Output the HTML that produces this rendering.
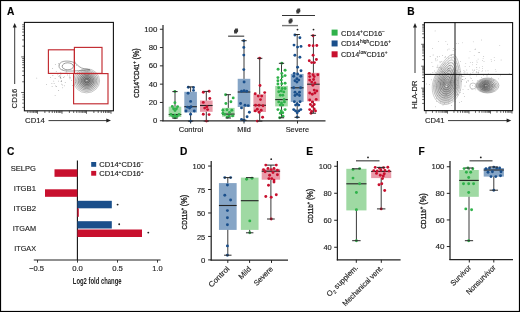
<!DOCTYPE html>
<html><head><meta charset="utf-8"><style>
html,body{margin:0;padding:0;background:#fff;}
svg{display:block;will-change:transform;}
text{font-family:"Liberation Sans", sans-serif;}
</style></head><body>
<svg width="520" height="312" viewBox="0 0 520 312" font-family='"Liberation Sans", sans-serif'>
<rect width="520" height="312" fill="#fff"/>
<rect x="0.5" y="0.5" width="519" height="311" fill="none" stroke="#000" stroke-width="1.2"/>
<text x="7" y="14.6" font-size="10.2" text-anchor="start" font-weight="bold" fill="#000" stroke="#000" stroke-width="0.15">A</text>
<text x="407.3" y="14.6" font-size="10.2" text-anchor="start" font-weight="bold" fill="#000" stroke="#000" stroke-width="0.15">B</text>
<text x="7" y="154.6" font-size="10.2" text-anchor="start" font-weight="bold" fill="#000" stroke="#000" stroke-width="0.15">C</text>
<text x="180" y="154.6" font-size="10.2" text-anchor="start" font-weight="bold" fill="#000" stroke="#000" stroke-width="0.15">D</text>
<text x="306.2" y="154.6" font-size="10.2" text-anchor="start" font-weight="bold" fill="#000" stroke="#000" stroke-width="0.15">E</text>
<text x="418.6" y="154.6" font-size="10.2" text-anchor="start" font-weight="bold" fill="#000" stroke="#000" stroke-width="0.15">F</text>
<rect x="24.4" y="22.4" width="89" height="88.4" fill="none" stroke="#111" stroke-width="1.1"/>
<line x1="21.20" y1="56.90" x2="24.40" y2="56.90" stroke="#222" stroke-width="0.7"/>
<line x1="22.20" y1="46.18" x2="24.40" y2="46.18" stroke="#222" stroke-width="0.7"/>
<line x1="22.20" y1="39.91" x2="24.40" y2="39.91" stroke="#222" stroke-width="0.7"/>
<line x1="22.20" y1="35.47" x2="24.40" y2="35.47" stroke="#222" stroke-width="0.7"/>
<line x1="22.20" y1="32.02" x2="24.40" y2="32.02" stroke="#222" stroke-width="0.7"/>
<line x1="22.20" y1="29.20" x2="24.40" y2="29.20" stroke="#222" stroke-width="0.7"/>
<line x1="22.20" y1="26.81" x2="24.40" y2="26.81" stroke="#222" stroke-width="0.7"/>
<line x1="22.20" y1="24.75" x2="24.40" y2="24.75" stroke="#222" stroke-width="0.7"/>
<line x1="21.20" y1="92.50" x2="24.40" y2="92.50" stroke="#222" stroke-width="0.7"/>
<line x1="22.20" y1="81.78" x2="24.40" y2="81.78" stroke="#222" stroke-width="0.7"/>
<line x1="22.20" y1="75.51" x2="24.40" y2="75.51" stroke="#222" stroke-width="0.7"/>
<line x1="22.20" y1="71.07" x2="24.40" y2="71.07" stroke="#222" stroke-width="0.7"/>
<line x1="22.20" y1="67.62" x2="24.40" y2="67.62" stroke="#222" stroke-width="0.7"/>
<line x1="22.20" y1="64.80" x2="24.40" y2="64.80" stroke="#222" stroke-width="0.7"/>
<line x1="22.20" y1="62.41" x2="24.40" y2="62.41" stroke="#222" stroke-width="0.7"/>
<line x1="22.20" y1="60.35" x2="24.40" y2="60.35" stroke="#222" stroke-width="0.7"/>
<line x1="22.20" y1="58.53" x2="24.40" y2="58.53" stroke="#222" stroke-width="0.7"/>
<line x1="22.20" y1="94.80" x2="24.40" y2="94.80" stroke="#333" stroke-width="0.6"/>
<line x1="22.20" y1="97.10" x2="24.40" y2="97.10" stroke="#333" stroke-width="0.6"/>
<line x1="22.20" y1="99.70" x2="24.40" y2="99.70" stroke="#333" stroke-width="0.6"/>
<line x1="22.20" y1="103.20" x2="24.40" y2="103.20" stroke="#333" stroke-width="0.6"/>
<line x1="22.20" y1="107.40" x2="24.40" y2="107.40" stroke="#333" stroke-width="0.6"/>
<line x1="27.75" y1="110.80" x2="27.75" y2="113.00" stroke="#222" stroke-width="0.7"/>
<line x1="30.12" y1="110.80" x2="30.12" y2="113.00" stroke="#222" stroke-width="0.7"/>
<line x1="32.06" y1="110.80" x2="32.06" y2="113.00" stroke="#222" stroke-width="0.7"/>
<line x1="33.70" y1="110.80" x2="33.70" y2="113.00" stroke="#222" stroke-width="0.7"/>
<line x1="35.13" y1="110.80" x2="35.13" y2="113.00" stroke="#222" stroke-width="0.7"/>
<line x1="36.38" y1="110.80" x2="36.38" y2="113.00" stroke="#222" stroke-width="0.7"/>
<line x1="37.50" y1="110.80" x2="37.50" y2="113.80" stroke="#222" stroke-width="0.7"/>
<line x1="44.88" y1="110.80" x2="44.88" y2="113.00" stroke="#222" stroke-width="0.7"/>
<line x1="49.19" y1="110.80" x2="49.19" y2="113.00" stroke="#222" stroke-width="0.7"/>
<line x1="52.25" y1="110.80" x2="52.25" y2="113.00" stroke="#222" stroke-width="0.7"/>
<line x1="54.62" y1="110.80" x2="54.62" y2="113.00" stroke="#222" stroke-width="0.7"/>
<line x1="56.56" y1="110.80" x2="56.56" y2="113.00" stroke="#222" stroke-width="0.7"/>
<line x1="58.20" y1="110.80" x2="58.20" y2="113.00" stroke="#222" stroke-width="0.7"/>
<line x1="59.63" y1="110.80" x2="59.63" y2="113.00" stroke="#222" stroke-width="0.7"/>
<line x1="60.88" y1="110.80" x2="60.88" y2="113.00" stroke="#222" stroke-width="0.7"/>
<line x1="62.00" y1="110.80" x2="62.00" y2="113.80" stroke="#222" stroke-width="0.7"/>
<line x1="69.38" y1="110.80" x2="69.38" y2="113.00" stroke="#222" stroke-width="0.7"/>
<line x1="73.69" y1="110.80" x2="73.69" y2="113.00" stroke="#222" stroke-width="0.7"/>
<line x1="76.75" y1="110.80" x2="76.75" y2="113.00" stroke="#222" stroke-width="0.7"/>
<line x1="79.12" y1="110.80" x2="79.12" y2="113.00" stroke="#222" stroke-width="0.7"/>
<line x1="81.06" y1="110.80" x2="81.06" y2="113.00" stroke="#222" stroke-width="0.7"/>
<line x1="82.70" y1="110.80" x2="82.70" y2="113.00" stroke="#222" stroke-width="0.7"/>
<line x1="84.13" y1="110.80" x2="84.13" y2="113.00" stroke="#222" stroke-width="0.7"/>
<line x1="85.38" y1="110.80" x2="85.38" y2="113.00" stroke="#222" stroke-width="0.7"/>
<line x1="86.50" y1="110.80" x2="86.50" y2="113.80" stroke="#222" stroke-width="0.7"/>
<line x1="93.88" y1="110.80" x2="93.88" y2="113.00" stroke="#222" stroke-width="0.7"/>
<line x1="98.19" y1="110.80" x2="98.19" y2="113.00" stroke="#222" stroke-width="0.7"/>
<line x1="101.25" y1="110.80" x2="101.25" y2="113.00" stroke="#222" stroke-width="0.7"/>
<line x1="103.62" y1="110.80" x2="103.62" y2="113.00" stroke="#222" stroke-width="0.7"/>
<line x1="105.56" y1="110.80" x2="105.56" y2="113.00" stroke="#222" stroke-width="0.7"/>
<line x1="107.20" y1="110.80" x2="107.20" y2="113.00" stroke="#222" stroke-width="0.7"/>
<line x1="108.63" y1="110.80" x2="108.63" y2="113.00" stroke="#222" stroke-width="0.7"/>
<line x1="109.88" y1="110.80" x2="109.88" y2="113.00" stroke="#222" stroke-width="0.7"/>
<line x1="111.00" y1="110.80" x2="111.00" y2="113.80" stroke="#222" stroke-width="0.7"/>
<line x1="14.70" y1="84.00" x2="14.70" y2="26.00" stroke="#222" stroke-width="0.9"/>
<path d="M12.7,27.6 L14.7,22.9 L16.7,27.6 Z" fill="#222"/>
<line x1="48.50" y1="120.60" x2="107.50" y2="120.60" stroke="#222" stroke-width="0.9"/>
<path d="M106.3,118.6 L111.0,120.6 L106.3,122.6 Z" fill="#222"/>
<text x="25.1" y="122.9" font-size="7.4" text-anchor="start" font-weight="normal" fill="#222" textLength="19.8" lengthAdjust="spacingAndGlyphs"  stroke="#222" stroke-width="0.14">CD14</text>
<text transform="translate(17.4,108.4) rotate(-90)" font-size="7.4" text-anchor="start" fill="#222" font-weight="normal" textLength="19.7" lengthAdjust="spacingAndGlyphs" stroke="#222" stroke-width="0.14">CD16</text>
<circle cx="62.7" cy="87.8" r="0.4" fill="#777"/>
<circle cx="55.5" cy="85.9" r="0.4" fill="#777"/>
<circle cx="60.2" cy="77.2" r="0.4" fill="#777"/>
<circle cx="75.3" cy="80.1" r="0.4" fill="#777"/>
<circle cx="61.7" cy="84.1" r="0.4" fill="#777"/>
<circle cx="69.9" cy="78.8" r="0.4" fill="#777"/>
<circle cx="66.1" cy="72.2" r="0.4" fill="#777"/>
<circle cx="59.4" cy="75.9" r="0.4" fill="#777"/>
<circle cx="52.7" cy="68.4" r="0.4" fill="#777"/>
<circle cx="50.6" cy="77.3" r="0.4" fill="#777"/>
<circle cx="60.8" cy="76.8" r="0.4" fill="#777"/>
<circle cx="62.5" cy="69.7" r="0.4" fill="#777"/>
<circle cx="61.4" cy="80.7" r="0.4" fill="#777"/>
<circle cx="67.3" cy="73.1" r="0.4" fill="#777"/>
<circle cx="59.2" cy="64.9" r="0.4" fill="#777"/>
<circle cx="58.5" cy="63.6" r="0.4" fill="#777"/>
<circle cx="52.1" cy="86.7" r="0.4" fill="#777"/>
<circle cx="46.6" cy="84.6" r="0.4" fill="#777"/>
<circle cx="64.3" cy="76.8" r="0.4" fill="#777"/>
<circle cx="65.2" cy="82.7" r="0.4" fill="#777"/>
<circle cx="69.3" cy="77.4" r="0.4" fill="#777"/>
<circle cx="57.9" cy="74.8" r="0.4" fill="#777"/>
<circle cx="55.1" cy="78.7" r="0.4" fill="#777"/>
<circle cx="56.5" cy="86.5" r="0.4" fill="#777"/>
<circle cx="48.9" cy="71.3" r="0.4" fill="#777"/>
<circle cx="55.3" cy="64.3" r="0.4" fill="#777"/>
<circle cx="75.3" cy="62.1" r="0.4" fill="#777"/>
<circle cx="60.0" cy="75.3" r="0.4" fill="#777"/>
<circle cx="73.6" cy="65.1" r="0.4" fill="#777"/>
<circle cx="69.5" cy="73.9" r="0.4" fill="#777"/>
<circle cx="60.9" cy="74.3" r="0.4" fill="#777"/>
<circle cx="66.5" cy="71.0" r="0.4" fill="#777"/>
<circle cx="61.4" cy="81.5" r="0.4" fill="#777"/>
<circle cx="74.9" cy="62.2" r="0.4" fill="#777"/>
<circle cx="72.7" cy="85.6" r="0.4" fill="#777"/>
<circle cx="58.6" cy="81.1" r="0.4" fill="#777"/>
<circle cx="58.7" cy="90.5" r="0.4" fill="#777"/>
<circle cx="63.5" cy="77.5" r="0.4" fill="#777"/>
<circle cx="60.4" cy="77.6" r="0.4" fill="#777"/>
<circle cx="60.8" cy="72.8" r="0.4" fill="#777"/>
<circle cx="76.4" cy="65.6" r="0.4" fill="#777"/>
<circle cx="36.8" cy="78.1" r="0.4" fill="#777"/>
<circle cx="61.0" cy="81.6" r="0.4" fill="#777"/>
<circle cx="60.6" cy="78.0" r="0.4" fill="#777"/>
<circle cx="64.3" cy="85.8" r="0.4" fill="#777"/>
<circle cx="58.9" cy="76.4" r="0.4" fill="#777"/>
<circle cx="75.6" cy="82.7" r="0.4" fill="#777"/>
<circle cx="55.1" cy="95.3" r="0.4" fill="#777"/>
<circle cx="67.4" cy="74.9" r="0.4" fill="#777"/>
<circle cx="53.8" cy="81.1" r="0.4" fill="#777"/>
<circle cx="56.2" cy="71.6" r="0.4" fill="#777"/>
<circle cx="52.9" cy="75.5" r="0.4" fill="#777"/>
<circle cx="69.8" cy="76.0" r="0.4" fill="#777"/>
<circle cx="51.9" cy="83.7" r="0.4" fill="#777"/>
<circle cx="62.5" cy="84.9" r="0.4" fill="#777"/>
<circle cx="70.4" cy="77.8" r="0.4" fill="#777"/>
<circle cx="61.0" cy="78.7" r="0.4" fill="#777"/>
<circle cx="54.1" cy="83.7" r="0.4" fill="#777"/>
<circle cx="71.6" cy="80.2" r="0.4" fill="#777"/>
<circle cx="60.3" cy="77.2" r="0.4" fill="#777"/>
<defs><radialGradient id="gA" cx="0.5" cy="0.5" r="0.5"><stop offset="0" stop-color="#fff" stop-opacity="0.9"/><stop offset="0.12" stop-color="#555" stop-opacity="0.75"/><stop offset="0.55" stop-color="#777" stop-opacity="0.45"/><stop offset="1" stop-color="#bbb" stop-opacity="0.1"/></radialGradient><radialGradient id="gB" cx="0.5" cy="0.5" r="0.5"><stop offset="0" stop-color="#eee" stop-opacity="0.8"/><stop offset="0.15" stop-color="#555" stop-opacity="0.7"/><stop offset="0.6" stop-color="#888" stop-opacity="0.4"/><stop offset="1" stop-color="#bbb" stop-opacity="0.1"/></radialGradient></defs>
<ellipse cx="86.7" cy="80.7" rx="12.6" ry="11.8" fill="url(#gA)"/>
<ellipse cx="86.60" cy="80.80" rx="13.00" ry="12.10" fill="none" stroke="#999" stroke-width="0.55"/>
<ellipse cx="86.66" cy="80.77" rx="11.53" ry="10.72" fill="none" stroke="#888" stroke-width="0.55"/>
<ellipse cx="86.72" cy="80.75" rx="10.05" ry="9.35" fill="none" stroke="#777" stroke-width="0.55"/>
<ellipse cx="86.79" cy="80.72" rx="8.57" ry="7.97" fill="none" stroke="#666" stroke-width="0.55"/>
<ellipse cx="86.85" cy="80.70" rx="7.10" ry="6.60" fill="none" stroke="#555" stroke-width="0.55"/>
<ellipse cx="86.91" cy="80.67" rx="5.63" ry="5.22" fill="none" stroke="#555" stroke-width="0.55"/>
<ellipse cx="86.97" cy="80.65" rx="4.15" ry="3.85" fill="none" stroke="#4a4a4a" stroke-width="0.55"/>
<ellipse cx="87.04" cy="80.62" rx="2.67" ry="2.48" fill="none" stroke="#444" stroke-width="0.55"/>
<ellipse cx="87.10" cy="80.60" rx="1.20" ry="1.10" fill="none" stroke="#555" stroke-width="0.55"/>
<path d="M59,66 C59,61 66,60.5 71,61.5 C75,62.5 76.5,64 79,66.5 C82,69 86,68.8 90,69.8 C80,70.5 75,71 72,71 C64,71.5 59,70 59,66 Z" fill="none" stroke="#5a5a5a" stroke-width="0.55"/>
<ellipse cx="67.8" cy="66.3" rx="5.6" ry="3.5" fill="none" stroke="#4a4a4a" stroke-width="0.55"/>
<g fill="none" stroke="#c22a30" stroke-width="1.15">
<rect x="48.4" y="49.8" width="26" height="23.6"/>
<rect x="74.4" y="47.4" width="27.6" height="26"/>
<rect x="73.6" y="73.6" width="34.4" height="30.2"/>
</g>
<line x1="163.00" y1="25.00" x2="163.00" y2="121.30" stroke="#2a2a2a" stroke-width="1.25"/>
<line x1="162.40" y1="120.75" x2="325.50" y2="120.75" stroke="#2a2a2a" stroke-width="1.25"/>
<line x1="159.90" y1="120.75" x2="163.00" y2="120.75" stroke="#2a2a2a" stroke-width="1.0"/>
<text x="157.4" y="123.25" font-size="7.2" text-anchor="end" font-weight="normal" fill="#222" textLength="4.3" lengthAdjust="spacingAndGlyphs"  stroke="#222" stroke-width="0.14">0</text>
<line x1="159.90" y1="102.45" x2="163.00" y2="102.45" stroke="#2a2a2a" stroke-width="1.0"/>
<text x="157.4" y="104.95" font-size="7.2" text-anchor="end" font-weight="normal" fill="#222" textLength="8.6" lengthAdjust="spacingAndGlyphs"  stroke="#222" stroke-width="0.14">20</text>
<line x1="159.90" y1="84.15" x2="163.00" y2="84.15" stroke="#2a2a2a" stroke-width="1.0"/>
<text x="157.4" y="86.65" font-size="7.2" text-anchor="end" font-weight="normal" fill="#222" textLength="8.6" lengthAdjust="spacingAndGlyphs"  stroke="#222" stroke-width="0.14">40</text>
<line x1="159.90" y1="65.85" x2="163.00" y2="65.85" stroke="#2a2a2a" stroke-width="1.0"/>
<text x="157.4" y="68.35" font-size="7.2" text-anchor="end" font-weight="normal" fill="#222" textLength="8.6" lengthAdjust="spacingAndGlyphs"  stroke="#222" stroke-width="0.14">60</text>
<line x1="159.90" y1="47.55" x2="163.00" y2="47.55" stroke="#2a2a2a" stroke-width="1.0"/>
<text x="157.4" y="50.05" font-size="7.2" text-anchor="end" font-weight="normal" fill="#222" textLength="8.6" lengthAdjust="spacingAndGlyphs"  stroke="#222" stroke-width="0.14">80</text>
<line x1="159.90" y1="29.25" x2="163.00" y2="29.25" stroke="#2a2a2a" stroke-width="1.0"/>
<text x="157.4" y="31.75" font-size="7.2" text-anchor="end" font-weight="normal" fill="#222" textLength="13.2" lengthAdjust="spacingAndGlyphs"  stroke="#222" stroke-width="0.14">100</text>
<line x1="190.60" y1="120.75" x2="190.60" y2="123.50" stroke="#2a2a2a" stroke-width="1.0"/>
<line x1="244.00" y1="120.75" x2="244.00" y2="123.50" stroke="#2a2a2a" stroke-width="1.0"/>
<line x1="297.50" y1="120.75" x2="297.50" y2="123.50" stroke="#2a2a2a" stroke-width="1.0"/>
<text x="190.9" y="132.2" font-size="7.9" text-anchor="middle" font-weight="normal" fill="#222" textLength="24.4" lengthAdjust="spacingAndGlyphs"  stroke="#222" stroke-width="0.14">Control</text>
<text x="244.0" y="132.2" font-size="7.9" text-anchor="middle" font-weight="normal" fill="#222" textLength="13.5" lengthAdjust="spacingAndGlyphs"  stroke="#222" stroke-width="0.14">Mild</text>
<text x="297.4" y="132.2" font-size="7.9" text-anchor="middle" font-weight="normal" fill="#222" textLength="23.4" lengthAdjust="spacingAndGlyphs"  stroke="#222" stroke-width="0.14">Severe</text>
<text transform="translate(138.7,97.8) rotate(-90)" font-size="7.4" text-anchor="start" fill="#222" font-weight="normal" textLength="49.5" lengthAdjust="spacingAndGlyphs" stroke="#222" stroke-width="0.3">CD14<tspan font-size="5.0" dy="-2.9">+</tspan><tspan dy="2.9">CD41<tspan font-size="5.0" dy="-2.9">+</tspan><tspan dy="2.9"> <tspan font-size="8.6">(%)</tspan></tspan></tspan></text>
<line x1="175.00" y1="91.60" x2="175.00" y2="118.20" stroke="#3a3a3a" stroke-width="1.0"/>
<rect x="168.70" y="106.70" width="12.60" height="10.30" fill="#9fd9a3"/>
<line x1="168.70" y1="114.50" x2="181.30" y2="114.50" stroke="#222" stroke-width="1.1"/>
<circle cx="174.90" cy="91.50" r="1.45" fill="#2fb24a"/>
<circle cx="174.90" cy="102.70" r="1.45" fill="#2fb24a"/>
<circle cx="172.30" cy="106.40" r="1.45" fill="#2fb24a"/>
<circle cx="177.60" cy="106.60" r="1.45" fill="#2fb24a"/>
<circle cx="173.60" cy="108.70" r="1.45" fill="#2fb24a"/>
<circle cx="176.40" cy="108.80" r="1.45" fill="#2fb24a"/>
<circle cx="175.00" cy="110.60" r="1.45" fill="#2fb24a"/>
<circle cx="171.00" cy="114.40" r="1.45" fill="#2fb24a"/>
<circle cx="172.90" cy="116.40" r="1.45" fill="#2fb24a"/>
<circle cx="175.00" cy="117.80" r="1.45" fill="#2fb24a"/>
<circle cx="177.10" cy="116.40" r="1.45" fill="#2fb24a"/>
<circle cx="179.00" cy="114.40" r="1.45" fill="#2fb24a"/>
<circle cx="174.90" cy="115.20" r="1.45" fill="#2fb24a"/>
<line x1="172.35" y1="91.60" x2="177.65" y2="91.60" stroke="#2a2a2a" stroke-width="1.0"/>
<line x1="172.35" y1="118.20" x2="177.65" y2="118.20" stroke="#2a2a2a" stroke-width="1.0"/>
<line x1="190.60" y1="86.90" x2="190.60" y2="121.10" stroke="#3a3a3a" stroke-width="1.0"/>
<rect x="184.30" y="91.80" width="12.60" height="20.70" fill="#86a5c6"/>
<line x1="184.30" y1="106.70" x2="196.90" y2="106.70" stroke="#222" stroke-width="1.1"/>
<circle cx="188.30" cy="87.20" r="1.45" fill="#1a4f8b"/>
<circle cx="193.50" cy="87.50" r="1.45" fill="#1a4f8b"/>
<circle cx="193.50" cy="90.40" r="1.45" fill="#1a4f8b"/>
<circle cx="188.10" cy="93.30" r="1.45" fill="#1a4f8b"/>
<circle cx="190.60" cy="101.40" r="1.45" fill="#1a4f8b"/>
<circle cx="187.40" cy="107.10" r="1.45" fill="#1a4f8b"/>
<circle cx="189.60" cy="108.10" r="1.45" fill="#1a4f8b"/>
<circle cx="191.00" cy="106.70" r="1.45" fill="#1a4f8b"/>
<circle cx="194.30" cy="111.00" r="1.45" fill="#1a4f8b"/>
<circle cx="186.00" cy="111.00" r="1.45" fill="#1a4f8b"/>
<circle cx="190.60" cy="114.30" r="1.45" fill="#1a4f8b"/>
<circle cx="190.60" cy="121.10" r="1.45" fill="#1a4f8b"/>
<line x1="187.95" y1="86.90" x2="193.25" y2="86.90" stroke="#2a2a2a" stroke-width="1.0"/>
<line x1="187.95" y1="121.10" x2="193.25" y2="121.10" stroke="#2a2a2a" stroke-width="1.0"/>
<line x1="206.30" y1="91.40" x2="206.30" y2="121.10" stroke="#3a3a3a" stroke-width="1.0"/>
<rect x="200.00" y="100.50" width="12.60" height="11.30" fill="#e99aa8"/>
<line x1="200.00" y1="105.50" x2="212.60" y2="105.50" stroke="#222" stroke-width="1.1"/>
<circle cx="203.30" cy="92.30" r="1.45" fill="#c8102e"/>
<circle cx="209.10" cy="91.30" r="1.45" fill="#c8102e"/>
<circle cx="209.80" cy="98.50" r="1.45" fill="#c8102e"/>
<circle cx="203.30" cy="102.40" r="1.45" fill="#c8102e"/>
<circle cx="206.90" cy="106.70" r="1.45" fill="#c8102e"/>
<circle cx="204.70" cy="108.10" r="1.45" fill="#c8102e"/>
<circle cx="207.60" cy="109.60" r="1.45" fill="#c8102e"/>
<circle cx="203.30" cy="114.30" r="1.45" fill="#c8102e"/>
<circle cx="209.10" cy="114.60" r="1.45" fill="#c8102e"/>
<circle cx="206.50" cy="121.10" r="1.45" fill="#c8102e"/>
<line x1="203.65" y1="91.40" x2="208.95" y2="91.40" stroke="#2a2a2a" stroke-width="1.0"/>
<line x1="203.65" y1="121.10" x2="208.95" y2="121.10" stroke="#2a2a2a" stroke-width="1.0"/>
<line x1="228.30" y1="94.70" x2="228.30" y2="118.00" stroke="#3a3a3a" stroke-width="1.0"/>
<rect x="222.00" y="107.90" width="12.60" height="8.80" fill="#9fd9a3"/>
<line x1="222.00" y1="114.10" x2="234.60" y2="114.10" stroke="#222" stroke-width="1.1"/>
<circle cx="225.60" cy="94.70" r="1.45" fill="#2fb24a"/>
<circle cx="233.20" cy="97.90" r="1.45" fill="#2fb24a"/>
<circle cx="230.90" cy="101.70" r="1.45" fill="#2fb24a"/>
<circle cx="225.90" cy="103.50" r="1.45" fill="#2fb24a"/>
<circle cx="222.90" cy="110.20" r="1.45" fill="#2fb24a"/>
<circle cx="227.00" cy="109.70" r="1.45" fill="#2fb24a"/>
<circle cx="231.80" cy="110.20" r="1.45" fill="#2fb24a"/>
<circle cx="224.70" cy="114.40" r="1.45" fill="#2fb24a"/>
<circle cx="229.10" cy="116.20" r="1.45" fill="#2fb24a"/>
<circle cx="227.30" cy="117.30" r="1.45" fill="#2fb24a"/>
<circle cx="232.60" cy="115.90" r="1.45" fill="#2fb24a"/>
<circle cx="222.90" cy="113.20" r="1.45" fill="#2fb24a"/>
<circle cx="229.50" cy="112.50" r="1.45" fill="#2fb24a"/>
<line x1="225.65" y1="94.70" x2="230.95" y2="94.70" stroke="#2a2a2a" stroke-width="1.0"/>
<line x1="225.65" y1="118.00" x2="230.95" y2="118.00" stroke="#2a2a2a" stroke-width="1.0"/>
<line x1="244.00" y1="40.70" x2="244.00" y2="120.30" stroke="#3a3a3a" stroke-width="1.0"/>
<rect x="237.70" y="78.80" width="12.60" height="28.20" fill="#86a5c6"/>
<line x1="237.70" y1="92.00" x2="250.30" y2="92.00" stroke="#222" stroke-width="1.1"/>
<circle cx="243.80" cy="40.70" r="1.45" fill="#1a4f8b"/>
<circle cx="243.80" cy="47.40" r="1.45" fill="#1a4f8b"/>
<circle cx="243.80" cy="55.10" r="1.45" fill="#1a4f8b"/>
<circle cx="243.80" cy="69.60" r="1.45" fill="#1a4f8b"/>
<circle cx="244.10" cy="82.00" r="1.45" fill="#1a4f8b"/>
<circle cx="241.50" cy="91.20" r="1.45" fill="#1a4f8b"/>
<circle cx="244.10" cy="90.80" r="1.45" fill="#1a4f8b"/>
<circle cx="246.70" cy="91.20" r="1.45" fill="#1a4f8b"/>
<circle cx="240.60" cy="103.50" r="1.45" fill="#1a4f8b"/>
<circle cx="245.00" cy="105.30" r="1.45" fill="#1a4f8b"/>
<circle cx="248.20" cy="105.60" r="1.45" fill="#1a4f8b"/>
<circle cx="241.50" cy="107.90" r="1.45" fill="#1a4f8b"/>
<circle cx="249.40" cy="112.30" r="1.45" fill="#1a4f8b"/>
<circle cx="247.10" cy="116.70" r="1.45" fill="#1a4f8b"/>
<circle cx="241.50" cy="119.40" r="1.45" fill="#1a4f8b"/>
<circle cx="244.10" cy="120.30" r="1.45" fill="#1a4f8b"/>
<line x1="241.35" y1="40.70" x2="246.65" y2="40.70" stroke="#2a2a2a" stroke-width="1.0"/>
<line x1="241.35" y1="120.30" x2="246.65" y2="120.30" stroke="#2a2a2a" stroke-width="1.0"/>
<line x1="259.70" y1="58.30" x2="259.70" y2="121.10" stroke="#3a3a3a" stroke-width="1.0"/>
<rect x="253.40" y="94.20" width="12.60" height="17.80" fill="#e99aa8"/>
<line x1="253.40" y1="105.30" x2="266.00" y2="105.30" stroke="#222" stroke-width="1.1"/>
<circle cx="259.60" cy="58.30" r="1.45" fill="#c8102e"/>
<circle cx="260.00" cy="85.50" r="1.45" fill="#c8102e"/>
<circle cx="255.20" cy="93.80" r="1.45" fill="#c8102e"/>
<circle cx="264.70" cy="92.60" r="1.45" fill="#c8102e"/>
<circle cx="258.20" cy="96.10" r="1.45" fill="#c8102e"/>
<circle cx="261.70" cy="96.10" r="1.45" fill="#c8102e"/>
<circle cx="260.50" cy="99.60" r="1.45" fill="#c8102e"/>
<circle cx="255.60" cy="105.30" r="1.45" fill="#c8102e"/>
<circle cx="259.10" cy="105.30" r="1.45" fill="#c8102e"/>
<circle cx="263.00" cy="105.80" r="1.45" fill="#c8102e"/>
<circle cx="257.30" cy="109.20" r="1.45" fill="#c8102e"/>
<circle cx="261.20" cy="110.20" r="1.45" fill="#c8102e"/>
<circle cx="259.10" cy="112.30" r="1.45" fill="#c8102e"/>
<circle cx="262.60" cy="117.30" r="1.45" fill="#c8102e"/>
<circle cx="257.30" cy="121.10" r="1.45" fill="#c8102e"/>
<circle cx="255.20" cy="110.90" r="1.45" fill="#c8102e"/>
<line x1="257.05" y1="58.30" x2="262.35" y2="58.30" stroke="#2a2a2a" stroke-width="1.0"/>
<line x1="257.05" y1="121.10" x2="262.35" y2="121.10" stroke="#2a2a2a" stroke-width="1.0"/>
<line x1="281.50" y1="63.30" x2="281.50" y2="117.80" stroke="#3a3a3a" stroke-width="1.0"/>
<rect x="275.20" y="85.90" width="12.60" height="20.50" fill="#9fd9a3"/>
<line x1="275.20" y1="99.60" x2="287.80" y2="99.60" stroke="#222" stroke-width="1.1"/>
<circle cx="281.80" cy="63.30" r="1.45" fill="#2fb24a"/>
<circle cx="278.10" cy="69.30" r="1.45" fill="#2fb24a"/>
<circle cx="285.10" cy="70.30" r="1.45" fill="#2fb24a"/>
<circle cx="281.80" cy="73.40" r="1.45" fill="#2fb24a"/>
<circle cx="285.10" cy="75.60" r="1.45" fill="#2fb24a"/>
<circle cx="277.90" cy="77.60" r="1.45" fill="#2fb24a"/>
<circle cx="282.20" cy="76.80" r="1.45" fill="#2fb24a"/>
<circle cx="277.90" cy="80.80" r="1.45" fill="#2fb24a"/>
<circle cx="281.30" cy="80.10" r="1.45" fill="#2fb24a"/>
<circle cx="277.90" cy="84.00" r="1.45" fill="#2fb24a"/>
<circle cx="281.80" cy="83.70" r="1.45" fill="#2fb24a"/>
<circle cx="285.10" cy="83.30" r="1.45" fill="#2fb24a"/>
<circle cx="278.70" cy="87.80" r="1.45" fill="#2fb24a"/>
<circle cx="282.20" cy="88.50" r="1.45" fill="#2fb24a"/>
<circle cx="285.10" cy="88.50" r="1.45" fill="#2fb24a"/>
<circle cx="278.70" cy="91.70" r="1.45" fill="#2fb24a"/>
<circle cx="281.30" cy="91.00" r="1.45" fill="#2fb24a"/>
<circle cx="283.80" cy="91.90" r="1.45" fill="#2fb24a"/>
<circle cx="280.30" cy="95.30" r="1.45" fill="#2fb24a"/>
<circle cx="282.80" cy="95.30" r="1.45" fill="#2fb24a"/>
<circle cx="284.10" cy="99.40" r="1.45" fill="#2fb24a"/>
<circle cx="278.70" cy="101.90" r="1.45" fill="#2fb24a"/>
<circle cx="281.50" cy="103.00" r="1.45" fill="#2fb24a"/>
<circle cx="284.40" cy="101.90" r="1.45" fill="#2fb24a"/>
<circle cx="280.30" cy="105.10" r="1.45" fill="#2fb24a"/>
<circle cx="282.80" cy="105.10" r="1.45" fill="#2fb24a"/>
<circle cx="277.90" cy="109.60" r="1.45" fill="#2fb24a"/>
<circle cx="281.30" cy="110.90" r="1.45" fill="#2fb24a"/>
<circle cx="285.10" cy="109.60" r="1.45" fill="#2fb24a"/>
<circle cx="280.30" cy="113.20" r="1.45" fill="#2fb24a"/>
<circle cx="282.80" cy="112.80" r="1.45" fill="#2fb24a"/>
<circle cx="279.70" cy="117.70" r="1.45" fill="#2fb24a"/>
<circle cx="283.00" cy="116.20" r="1.45" fill="#2fb24a"/>
<line x1="278.85" y1="63.30" x2="284.15" y2="63.30" stroke="#2a2a2a" stroke-width="1.0"/>
<line x1="278.85" y1="117.80" x2="284.15" y2="117.80" stroke="#2a2a2a" stroke-width="1.0"/>
<line x1="297.20" y1="34.50" x2="297.20" y2="117.30" stroke="#3a3a3a" stroke-width="1.0"/>
<rect x="290.80" y="73.90" width="12.80" height="28.00" fill="#86a5c6"/>
<line x1="290.80" y1="87.80" x2="303.60" y2="87.80" stroke="#222" stroke-width="1.1"/>
<circle cx="294.90" cy="35.00" r="1.45" fill="#1a4f8b"/>
<circle cx="299.90" cy="37.70" r="1.45" fill="#1a4f8b"/>
<circle cx="294.00" cy="45.10" r="1.45" fill="#1a4f8b"/>
<circle cx="297.60" cy="47.10" r="1.45" fill="#1a4f8b"/>
<circle cx="301.00" cy="46.40" r="1.45" fill="#1a4f8b"/>
<circle cx="294.90" cy="55.20" r="1.45" fill="#1a4f8b"/>
<circle cx="299.90" cy="57.20" r="1.45" fill="#1a4f8b"/>
<circle cx="297.60" cy="67.30" r="1.45" fill="#1a4f8b"/>
<circle cx="301.00" cy="70.70" r="1.45" fill="#1a4f8b"/>
<circle cx="294.20" cy="73.40" r="1.45" fill="#1a4f8b"/>
<circle cx="297.60" cy="74.00" r="1.45" fill="#1a4f8b"/>
<circle cx="293.70" cy="76.30" r="1.45" fill="#1a4f8b"/>
<circle cx="300.80" cy="76.30" r="1.45" fill="#1a4f8b"/>
<circle cx="296.90" cy="78.80" r="1.45" fill="#1a4f8b"/>
<circle cx="295.00" cy="80.80" r="1.45" fill="#1a4f8b"/>
<circle cx="298.80" cy="80.10" r="1.45" fill="#1a4f8b"/>
<circle cx="296.90" cy="82.10" r="1.45" fill="#1a4f8b"/>
<circle cx="293.70" cy="87.80" r="1.45" fill="#1a4f8b"/>
<circle cx="300.60" cy="87.80" r="1.45" fill="#1a4f8b"/>
<circle cx="295.00" cy="92.30" r="1.45" fill="#1a4f8b"/>
<circle cx="299.50" cy="92.30" r="1.45" fill="#1a4f8b"/>
<circle cx="297.20" cy="94.20" r="1.45" fill="#1a4f8b"/>
<circle cx="295.00" cy="95.50" r="1.45" fill="#1a4f8b"/>
<circle cx="299.50" cy="95.50" r="1.45" fill="#1a4f8b"/>
<circle cx="294.40" cy="101.70" r="1.45" fill="#1a4f8b"/>
<circle cx="300.10" cy="101.70" r="1.45" fill="#1a4f8b"/>
<circle cx="297.20" cy="103.80" r="1.45" fill="#1a4f8b"/>
<circle cx="295.60" cy="105.10" r="1.45" fill="#1a4f8b"/>
<circle cx="298.80" cy="105.10" r="1.45" fill="#1a4f8b"/>
<circle cx="293.70" cy="109.60" r="1.45" fill="#1a4f8b"/>
<circle cx="300.80" cy="109.60" r="1.45" fill="#1a4f8b"/>
<circle cx="295.60" cy="110.90" r="1.45" fill="#1a4f8b"/>
<circle cx="298.80" cy="110.90" r="1.45" fill="#1a4f8b"/>
<circle cx="297.20" cy="112.80" r="1.45" fill="#1a4f8b"/>
<circle cx="297.20" cy="117.30" r="1.45" fill="#1a4f8b"/>
<line x1="294.51" y1="34.50" x2="299.89" y2="34.50" stroke="#2a2a2a" stroke-width="1.0"/>
<line x1="294.51" y1="117.30" x2="299.89" y2="117.30" stroke="#2a2a2a" stroke-width="1.0"/>
<line x1="313.40" y1="35.40" x2="313.40" y2="113.20" stroke="#3a3a3a" stroke-width="1.0"/>
<rect x="307.10" y="72.80" width="12.60" height="28.50" fill="#e99aa8"/>
<line x1="307.10" y1="84.20" x2="319.70" y2="84.20" stroke="#222" stroke-width="1.1"/>
<circle cx="313.10" cy="35.70" r="1.45" fill="#c8102e"/>
<circle cx="309.30" cy="45.50" r="1.45" fill="#c8102e"/>
<circle cx="313.10" cy="45.80" r="1.45" fill="#c8102e"/>
<circle cx="316.80" cy="45.50" r="1.45" fill="#c8102e"/>
<circle cx="313.10" cy="55.20" r="1.45" fill="#c8102e"/>
<circle cx="309.30" cy="60.80" r="1.45" fill="#c8102e"/>
<circle cx="316.40" cy="59.50" r="1.45" fill="#c8102e"/>
<circle cx="311.70" cy="62.60" r="1.45" fill="#c8102e"/>
<circle cx="314.40" cy="62.60" r="1.45" fill="#c8102e"/>
<circle cx="309.30" cy="73.40" r="1.45" fill="#c8102e"/>
<circle cx="313.10" cy="74.70" r="1.45" fill="#c8102e"/>
<circle cx="317.80" cy="74.70" r="1.45" fill="#c8102e"/>
<circle cx="309.70" cy="76.60" r="1.45" fill="#c8102e"/>
<circle cx="314.20" cy="76.60" r="1.45" fill="#c8102e"/>
<circle cx="309.70" cy="80.10" r="1.45" fill="#c8102e"/>
<circle cx="313.60" cy="79.50" r="1.45" fill="#c8102e"/>
<circle cx="311.70" cy="82.10" r="1.45" fill="#c8102e"/>
<circle cx="314.90" cy="83.00" r="1.45" fill="#c8102e"/>
<circle cx="312.90" cy="85.30" r="1.45" fill="#c8102e"/>
<circle cx="314.20" cy="90.10" r="1.45" fill="#c8102e"/>
<circle cx="316.80" cy="91.00" r="1.45" fill="#c8102e"/>
<circle cx="309.70" cy="93.00" r="1.45" fill="#c8102e"/>
<circle cx="312.30" cy="94.20" r="1.45" fill="#c8102e"/>
<circle cx="314.90" cy="93.00" r="1.45" fill="#c8102e"/>
<circle cx="309.70" cy="100.00" r="1.45" fill="#c8102e"/>
<circle cx="316.20" cy="99.40" r="1.45" fill="#c8102e"/>
<circle cx="312.30" cy="101.90" r="1.45" fill="#c8102e"/>
<circle cx="310.40" cy="104.50" r="1.45" fill="#c8102e"/>
<circle cx="314.20" cy="104.50" r="1.45" fill="#c8102e"/>
<circle cx="312.30" cy="106.40" r="1.45" fill="#c8102e"/>
<circle cx="309.70" cy="109.60" r="1.45" fill="#c8102e"/>
<circle cx="314.20" cy="109.00" r="1.45" fill="#c8102e"/>
<circle cx="311.70" cy="111.50" r="1.45" fill="#c8102e"/>
<circle cx="315.50" cy="110.90" r="1.45" fill="#c8102e"/>
<circle cx="311.00" cy="113.20" r="1.45" fill="#c8102e"/>
<line x1="310.75" y1="35.40" x2="316.05" y2="35.40" stroke="#2a2a2a" stroke-width="1.0"/>
<line x1="310.75" y1="113.20" x2="316.05" y2="113.20" stroke="#2a2a2a" stroke-width="1.0"/>
<line x1="228.10" y1="36.20" x2="244.20" y2="36.20" stroke="#555" stroke-width="1.3"/>
<text x="235.9" y="33.4" font-size="6.2" text-anchor="middle" font-weight="bold" fill="#3a3a3a" font-style="italic" stroke="#3a3a3a" stroke-width="0.9">#</text>
<line x1="282.00" y1="15.50" x2="315.00" y2="15.50" stroke="#333" stroke-width="1.2"/>
<text x="298.3" y="12.9" font-size="6.2" text-anchor="middle" font-weight="bold" fill="#3a3a3a" font-style="italic" stroke="#3a3a3a" stroke-width="0.9">#</text>
<line x1="282.00" y1="25.60" x2="298.00" y2="25.60" stroke="#777" stroke-width="1.4"/>
<text x="290.5" y="22.9" font-size="6.2" text-anchor="middle" font-weight="bold" fill="#3a3a3a" font-style="italic" stroke="#3a3a3a" stroke-width="0.9">#</text>
<circle cx="297.50" cy="29.60" r="0.9" fill="#222"/>
<circle cx="313.50" cy="29.60" r="0.9" fill="#222"/>
<rect x="331.6" y="29.60" width="6" height="6" fill="#2fb24a"/>
<text x="341.0" y="35.5" font-size="7.3" text-anchor="start" font-weight="normal" fill="#222" textLength="44" lengthAdjust="spacingAndGlyphs"  stroke="#222" stroke-width="0.14">CD14<tspan font-size="4.8" dy="-2.9">+</tspan><tspan dy="2.9">CD16<tspan font-size="4.8" dy="-2.9">−</tspan><tspan dy="2.9"></tspan></tspan></text>
<rect x="331.6" y="40.45" width="6" height="6" fill="#1a4f8b"/>
<text x="341.0" y="46.35" font-size="7.3" text-anchor="start" font-weight="normal" fill="#222" textLength="50" lengthAdjust="spacingAndGlyphs"  stroke="#222" stroke-width="0.14">CD14<tspan font-size="4.8" dy="-2.9">high</tspan><tspan dy="2.9">CD16<tspan font-size="4.8" dy="-2.9">+</tspan><tspan dy="2.9"></tspan></tspan></text>
<rect x="331.6" y="51.30" width="6" height="6" fill="#c8102e"/>
<text x="341.0" y="57.199999999999996" font-size="7.3" text-anchor="start" font-weight="normal" fill="#222" textLength="46.5" lengthAdjust="spacingAndGlyphs"  stroke="#222" stroke-width="0.14">CD14<tspan font-size="4.8" dy="-2.9">low</tspan><tspan dy="2.9">CD16<tspan font-size="4.8" dy="-2.9">+</tspan><tspan dy="2.9"></tspan></tspan></text>
<rect x="424.4" y="22.6" width="88.2" height="88" fill="none" stroke="#111" stroke-width="1.1"/>
<line x1="421.20" y1="44.30" x2="424.40" y2="44.30" stroke="#222" stroke-width="0.7"/>
<line x1="422.20" y1="37.71" x2="424.40" y2="37.71" stroke="#222" stroke-width="0.7"/>
<line x1="422.20" y1="33.85" x2="424.40" y2="33.85" stroke="#222" stroke-width="0.7"/>
<line x1="422.20" y1="31.11" x2="424.40" y2="31.11" stroke="#222" stroke-width="0.7"/>
<line x1="422.20" y1="28.99" x2="424.40" y2="28.99" stroke="#222" stroke-width="0.7"/>
<line x1="422.20" y1="27.26" x2="424.40" y2="27.26" stroke="#222" stroke-width="0.7"/>
<line x1="422.20" y1="25.79" x2="424.40" y2="25.79" stroke="#222" stroke-width="0.7"/>
<line x1="422.20" y1="24.52" x2="424.40" y2="24.52" stroke="#222" stroke-width="0.7"/>
<line x1="421.20" y1="66.20" x2="424.40" y2="66.20" stroke="#222" stroke-width="0.7"/>
<line x1="422.20" y1="59.61" x2="424.40" y2="59.61" stroke="#222" stroke-width="0.7"/>
<line x1="422.20" y1="55.75" x2="424.40" y2="55.75" stroke="#222" stroke-width="0.7"/>
<line x1="422.20" y1="53.01" x2="424.40" y2="53.01" stroke="#222" stroke-width="0.7"/>
<line x1="422.20" y1="50.89" x2="424.40" y2="50.89" stroke="#222" stroke-width="0.7"/>
<line x1="422.20" y1="49.16" x2="424.40" y2="49.16" stroke="#222" stroke-width="0.7"/>
<line x1="422.20" y1="47.69" x2="424.40" y2="47.69" stroke="#222" stroke-width="0.7"/>
<line x1="422.20" y1="46.42" x2="424.40" y2="46.42" stroke="#222" stroke-width="0.7"/>
<line x1="422.20" y1="45.30" x2="424.40" y2="45.30" stroke="#222" stroke-width="0.7"/>
<line x1="421.20" y1="88.10" x2="424.40" y2="88.10" stroke="#222" stroke-width="0.7"/>
<line x1="422.20" y1="81.51" x2="424.40" y2="81.51" stroke="#222" stroke-width="0.7"/>
<line x1="422.20" y1="77.65" x2="424.40" y2="77.65" stroke="#222" stroke-width="0.7"/>
<line x1="422.20" y1="74.91" x2="424.40" y2="74.91" stroke="#222" stroke-width="0.7"/>
<line x1="422.20" y1="72.79" x2="424.40" y2="72.79" stroke="#222" stroke-width="0.7"/>
<line x1="422.20" y1="71.06" x2="424.40" y2="71.06" stroke="#222" stroke-width="0.7"/>
<line x1="422.20" y1="69.59" x2="424.40" y2="69.59" stroke="#222" stroke-width="0.7"/>
<line x1="422.20" y1="68.32" x2="424.40" y2="68.32" stroke="#222" stroke-width="0.7"/>
<line x1="422.20" y1="67.20" x2="424.40" y2="67.20" stroke="#222" stroke-width="0.7"/>
<line x1="422.20" y1="103.41" x2="424.40" y2="103.41" stroke="#222" stroke-width="0.7"/>
<line x1="422.20" y1="99.55" x2="424.40" y2="99.55" stroke="#222" stroke-width="0.7"/>
<line x1="422.20" y1="96.81" x2="424.40" y2="96.81" stroke="#222" stroke-width="0.7"/>
<line x1="422.20" y1="94.69" x2="424.40" y2="94.69" stroke="#222" stroke-width="0.7"/>
<line x1="422.20" y1="92.96" x2="424.40" y2="92.96" stroke="#222" stroke-width="0.7"/>
<line x1="422.20" y1="91.49" x2="424.40" y2="91.49" stroke="#222" stroke-width="0.7"/>
<line x1="422.20" y1="90.22" x2="424.40" y2="90.22" stroke="#222" stroke-width="0.7"/>
<line x1="422.20" y1="89.10" x2="424.40" y2="89.10" stroke="#222" stroke-width="0.7"/>
<line x1="426.00" y1="110.60" x2="426.00" y2="113.60" stroke="#222" stroke-width="0.7"/>
<line x1="432.47" y1="110.60" x2="432.47" y2="112.80" stroke="#222" stroke-width="0.7"/>
<line x1="436.26" y1="110.60" x2="436.26" y2="112.80" stroke="#222" stroke-width="0.7"/>
<line x1="438.94" y1="110.60" x2="438.94" y2="112.80" stroke="#222" stroke-width="0.7"/>
<line x1="441.03" y1="110.60" x2="441.03" y2="112.80" stroke="#222" stroke-width="0.7"/>
<line x1="442.73" y1="110.60" x2="442.73" y2="112.80" stroke="#222" stroke-width="0.7"/>
<line x1="444.17" y1="110.60" x2="444.17" y2="112.80" stroke="#222" stroke-width="0.7"/>
<line x1="445.42" y1="110.60" x2="445.42" y2="112.80" stroke="#222" stroke-width="0.7"/>
<line x1="446.52" y1="110.60" x2="446.52" y2="112.80" stroke="#222" stroke-width="0.7"/>
<line x1="447.50" y1="110.60" x2="447.50" y2="113.60" stroke="#222" stroke-width="0.7"/>
<line x1="453.97" y1="110.60" x2="453.97" y2="112.80" stroke="#222" stroke-width="0.7"/>
<line x1="457.76" y1="110.60" x2="457.76" y2="112.80" stroke="#222" stroke-width="0.7"/>
<line x1="460.44" y1="110.60" x2="460.44" y2="112.80" stroke="#222" stroke-width="0.7"/>
<line x1="462.53" y1="110.60" x2="462.53" y2="112.80" stroke="#222" stroke-width="0.7"/>
<line x1="464.23" y1="110.60" x2="464.23" y2="112.80" stroke="#222" stroke-width="0.7"/>
<line x1="465.67" y1="110.60" x2="465.67" y2="112.80" stroke="#222" stroke-width="0.7"/>
<line x1="466.92" y1="110.60" x2="466.92" y2="112.80" stroke="#222" stroke-width="0.7"/>
<line x1="468.02" y1="110.60" x2="468.02" y2="112.80" stroke="#222" stroke-width="0.7"/>
<line x1="469.00" y1="110.60" x2="469.00" y2="113.60" stroke="#222" stroke-width="0.7"/>
<line x1="475.47" y1="110.60" x2="475.47" y2="112.80" stroke="#222" stroke-width="0.7"/>
<line x1="479.26" y1="110.60" x2="479.26" y2="112.80" stroke="#222" stroke-width="0.7"/>
<line x1="481.94" y1="110.60" x2="481.94" y2="112.80" stroke="#222" stroke-width="0.7"/>
<line x1="484.03" y1="110.60" x2="484.03" y2="112.80" stroke="#222" stroke-width="0.7"/>
<line x1="485.73" y1="110.60" x2="485.73" y2="112.80" stroke="#222" stroke-width="0.7"/>
<line x1="487.17" y1="110.60" x2="487.17" y2="112.80" stroke="#222" stroke-width="0.7"/>
<line x1="488.42" y1="110.60" x2="488.42" y2="112.80" stroke="#222" stroke-width="0.7"/>
<line x1="489.52" y1="110.60" x2="489.52" y2="112.80" stroke="#222" stroke-width="0.7"/>
<line x1="490.50" y1="110.60" x2="490.50" y2="113.60" stroke="#222" stroke-width="0.7"/>
<line x1="496.97" y1="110.60" x2="496.97" y2="112.80" stroke="#222" stroke-width="0.7"/>
<line x1="500.76" y1="110.60" x2="500.76" y2="112.80" stroke="#222" stroke-width="0.7"/>
<line x1="503.44" y1="110.60" x2="503.44" y2="112.80" stroke="#222" stroke-width="0.7"/>
<line x1="505.53" y1="110.60" x2="505.53" y2="112.80" stroke="#222" stroke-width="0.7"/>
<line x1="507.23" y1="110.60" x2="507.23" y2="112.80" stroke="#222" stroke-width="0.7"/>
<line x1="508.67" y1="110.60" x2="508.67" y2="112.80" stroke="#222" stroke-width="0.7"/>
<line x1="509.92" y1="110.60" x2="509.92" y2="112.80" stroke="#222" stroke-width="0.7"/>
<line x1="511.02" y1="110.60" x2="511.02" y2="112.80" stroke="#222" stroke-width="0.7"/>
<line x1="512.00" y1="110.60" x2="512.00" y2="113.60" stroke="#222" stroke-width="0.7"/>
<line x1="415.00" y1="73.00" x2="415.00" y2="26.00" stroke="#222" stroke-width="0.9"/>
<path d="M413.0,27.6 L415,22.9 L417.0,27.6 Z" fill="#222"/>
<line x1="448.00" y1="120.60" x2="507.80" y2="120.60" stroke="#222" stroke-width="0.9"/>
<path d="M506.6,118.6 L511.3,120.6 L506.6,122.6 Z" fill="#222"/>
<text x="425" y="122.9" font-size="7.4" text-anchor="start" font-weight="normal" fill="#222" textLength="19.5" lengthAdjust="spacingAndGlyphs"  stroke="#222" stroke-width="0.14">CD41</text>
<text transform="translate(417.2,108.7) rotate(-90)" font-size="7.4" text-anchor="start" fill="#222" font-weight="normal" textLength="28.2" lengthAdjust="spacingAndGlyphs" stroke="#222" stroke-width="0.14">HLA-DR</text>
<circle cx="436.0" cy="60.8" r="0.4" fill="#888"/>
<circle cx="456.4" cy="43.6" r="0.4" fill="#888"/>
<circle cx="447.4" cy="44.2" r="0.4" fill="#888"/>
<circle cx="461.1" cy="81.0" r="0.4" fill="#888"/>
<circle cx="463.9" cy="70.4" r="0.4" fill="#888"/>
<circle cx="453.4" cy="73.7" r="0.4" fill="#888"/>
<circle cx="440.9" cy="80.2" r="0.4" fill="#888"/>
<circle cx="435.2" cy="72.7" r="0.4" fill="#888"/>
<circle cx="456.7" cy="78.9" r="0.4" fill="#888"/>
<circle cx="449.6" cy="69.2" r="0.4" fill="#888"/>
<circle cx="450.8" cy="70.2" r="0.4" fill="#888"/>
<circle cx="444.8" cy="72.7" r="0.4" fill="#888"/>
<circle cx="471.3" cy="78.3" r="0.4" fill="#888"/>
<circle cx="450.9" cy="88.1" r="0.4" fill="#888"/>
<circle cx="471.2" cy="74.6" r="0.4" fill="#888"/>
<circle cx="432.9" cy="72.5" r="0.4" fill="#888"/>
<circle cx="438.6" cy="41.6" r="0.4" fill="#888"/>
<circle cx="456.3" cy="70.2" r="0.4" fill="#888"/>
<circle cx="444.7" cy="84.9" r="0.4" fill="#888"/>
<circle cx="451.5" cy="82.4" r="0.4" fill="#888"/>
<circle cx="444.3" cy="97.3" r="0.4" fill="#888"/>
<circle cx="465.6" cy="78.5" r="0.4" fill="#888"/>
<circle cx="444.0" cy="89.0" r="0.4" fill="#888"/>
<circle cx="454.3" cy="62.4" r="0.4" fill="#888"/>
<circle cx="443.9" cy="93.7" r="0.4" fill="#888"/>
<circle cx="447.9" cy="73.1" r="0.4" fill="#888"/>
<circle cx="451.3" cy="77.5" r="0.4" fill="#888"/>
<circle cx="449.0" cy="49.0" r="0.4" fill="#888"/>
<circle cx="468.2" cy="81.0" r="0.4" fill="#888"/>
<circle cx="439.4" cy="92.7" r="0.4" fill="#888"/>
<circle cx="452.4" cy="78.3" r="0.4" fill="#888"/>
<circle cx="455.1" cy="101.8" r="0.4" fill="#888"/>
<circle cx="472.7" cy="62.7" r="0.4" fill="#888"/>
<circle cx="443.2" cy="89.6" r="0.4" fill="#888"/>
<circle cx="430.2" cy="74.0" r="0.4" fill="#888"/>
<circle cx="463.2" cy="93.6" r="0.4" fill="#888"/>
<circle cx="455.4" cy="49.6" r="0.4" fill="#888"/>
<circle cx="474.9" cy="86.3" r="0.4" fill="#888"/>
<circle cx="457.4" cy="85.4" r="0.4" fill="#888"/>
<circle cx="430.1" cy="56.5" r="0.4" fill="#888"/>
<circle cx="435.6" cy="106.8" r="0.4" fill="#888"/>
<circle cx="439.9" cy="74.4" r="0.4" fill="#888"/>
<circle cx="446.2" cy="86.6" r="0.4" fill="#888"/>
<circle cx="454.5" cy="82.0" r="0.4" fill="#888"/>
<circle cx="435.1" cy="30.9" r="0.4" fill="#888"/>
<circle cx="450.8" cy="82.0" r="0.4" fill="#888"/>
<circle cx="462.5" cy="76.5" r="0.4" fill="#888"/>
<circle cx="442.3" cy="84.2" r="0.4" fill="#888"/>
<circle cx="431.9" cy="62.4" r="0.4" fill="#888"/>
<circle cx="437.9" cy="82.3" r="0.4" fill="#888"/>
<circle cx="472.0" cy="89.5" r="0.4" fill="#888"/>
<circle cx="461.6" cy="81.6" r="0.4" fill="#888"/>
<circle cx="452.1" cy="71.3" r="0.4" fill="#888"/>
<circle cx="445.9" cy="41.6" r="0.4" fill="#888"/>
<circle cx="435.8" cy="58.7" r="0.4" fill="#888"/>
<circle cx="458.2" cy="87.9" r="0.4" fill="#888"/>
<circle cx="461.6" cy="101.3" r="0.4" fill="#888"/>
<circle cx="445.6" cy="93.8" r="0.4" fill="#888"/>
<circle cx="470.5" cy="77.9" r="0.4" fill="#888"/>
<circle cx="461.0" cy="75.5" r="0.4" fill="#888"/>
<circle cx="431.3" cy="79.8" r="0.4" fill="#888"/>
<circle cx="440.0" cy="79.6" r="0.4" fill="#888"/>
<circle cx="443.9" cy="82.8" r="0.4" fill="#888"/>
<circle cx="464.0" cy="72.7" r="0.4" fill="#888"/>
<circle cx="439.0" cy="78.1" r="0.4" fill="#888"/>
<circle cx="456.4" cy="84.4" r="0.4" fill="#888"/>
<circle cx="453.4" cy="48.5" r="0.4" fill="#888"/>
<circle cx="436.6" cy="98.2" r="0.4" fill="#888"/>
<circle cx="451.6" cy="55.2" r="0.4" fill="#888"/>
<circle cx="439.4" cy="56.3" r="0.4" fill="#888"/>
<circle cx="437.8" cy="95.7" r="0.4" fill="#888"/>
<circle cx="446.6" cy="95.0" r="0.4" fill="#888"/>
<circle cx="451.1" cy="55.2" r="0.4" fill="#888"/>
<circle cx="440.5" cy="62.0" r="0.4" fill="#888"/>
<circle cx="462.8" cy="79.4" r="0.4" fill="#888"/>
<circle cx="448.9" cy="100.4" r="0.4" fill="#888"/>
<circle cx="429.3" cy="84.4" r="0.4" fill="#888"/>
<circle cx="437.2" cy="56.6" r="0.4" fill="#888"/>
<circle cx="439.9" cy="95.6" r="0.4" fill="#888"/>
<circle cx="447.4" cy="49.9" r="0.4" fill="#888"/>
<circle cx="436.6" cy="101.3" r="0.4" fill="#888"/>
<circle cx="460.5" cy="61.3" r="0.4" fill="#888"/>
<circle cx="476.2" cy="72.4" r="0.4" fill="#888"/>
<circle cx="435.6" cy="75.9" r="0.4" fill="#888"/>
<circle cx="459.5" cy="102.7" r="0.4" fill="#888"/>
<circle cx="460.6" cy="71.5" r="0.4" fill="#888"/>
<circle cx="442.7" cy="55.7" r="0.4" fill="#888"/>
<circle cx="448.2" cy="68.9" r="0.4" fill="#888"/>
<circle cx="451.8" cy="58.6" r="0.4" fill="#888"/>
<circle cx="443.2" cy="64.5" r="0.4" fill="#888"/>
<circle cx="435.5" cy="59.8" r="0.4" fill="#888"/>
<circle cx="437.5" cy="59.9" r="0.4" fill="#888"/>
<circle cx="455.4" cy="79.5" r="0.4" fill="#888"/>
<circle cx="434.1" cy="85.9" r="0.4" fill="#888"/>
<circle cx="452.2" cy="100.4" r="0.4" fill="#888"/>
<circle cx="446.8" cy="74.8" r="0.4" fill="#888"/>
<circle cx="441.2" cy="79.9" r="0.4" fill="#888"/>
<circle cx="454.6" cy="80.7" r="0.4" fill="#888"/>
<circle cx="446.1" cy="86.7" r="0.4" fill="#888"/>
<circle cx="450.0" cy="81.8" r="0.4" fill="#888"/>
<circle cx="438.5" cy="81.2" r="0.4" fill="#888"/>
<circle cx="437.8" cy="65.1" r="0.4" fill="#888"/>
<circle cx="460.2" cy="78.1" r="0.4" fill="#888"/>
<circle cx="447.0" cy="93.2" r="0.4" fill="#888"/>
<circle cx="464.6" cy="96.7" r="0.4" fill="#888"/>
<circle cx="446.9" cy="80.9" r="0.4" fill="#888"/>
<circle cx="445.3" cy="73.6" r="0.4" fill="#888"/>
<circle cx="439.4" cy="74.2" r="0.4" fill="#888"/>
<circle cx="453.8" cy="63.8" r="0.4" fill="#888"/>
<circle cx="455.1" cy="58.2" r="0.4" fill="#888"/>
<circle cx="444.8" cy="84.1" r="0.4" fill="#888"/>
<circle cx="437.3" cy="67.0" r="0.4" fill="#888"/>
<circle cx="476.8" cy="67.5" r="0.4" fill="#888"/>
<circle cx="441.1" cy="69.2" r="0.4" fill="#888"/>
<circle cx="449.4" cy="77.6" r="0.4" fill="#888"/>
<circle cx="460.1" cy="90.2" r="0.4" fill="#888"/>
<circle cx="444.5" cy="72.5" r="0.4" fill="#888"/>
<circle cx="433.1" cy="55.0" r="0.4" fill="#888"/>
<circle cx="440.7" cy="89.2" r="0.4" fill="#888"/>
<circle cx="450.4" cy="90.3" r="0.4" fill="#888"/>
<circle cx="459.6" cy="75.5" r="0.4" fill="#888"/>
<circle cx="472.6" cy="70.0" r="0.4" fill="#888"/>
<circle cx="442.0" cy="71.4" r="0.4" fill="#888"/>
<circle cx="461.8" cy="75.9" r="0.4" fill="#888"/>
<circle cx="440.7" cy="84.7" r="0.4" fill="#888"/>
<circle cx="461.7" cy="76.3" r="0.4" fill="#888"/>
<circle cx="446.2" cy="94.6" r="0.4" fill="#888"/>
<circle cx="460.1" cy="92.5" r="0.4" fill="#888"/>
<circle cx="440.4" cy="82.3" r="0.4" fill="#888"/>
<circle cx="453.1" cy="50.5" r="0.4" fill="#888"/>
<circle cx="462.5" cy="79.5" r="0.4" fill="#888"/>
<circle cx="450.6" cy="67.0" r="0.4" fill="#888"/>
<circle cx="448.3" cy="86.6" r="0.4" fill="#888"/>
<circle cx="458.1" cy="77.1" r="0.4" fill="#888"/>
<circle cx="439.3" cy="67.3" r="0.4" fill="#888"/>
<circle cx="439.8" cy="61.9" r="0.4" fill="#888"/>
<circle cx="448.8" cy="70.5" r="0.4" fill="#888"/>
<circle cx="449.6" cy="65.3" r="0.4" fill="#888"/>
<circle cx="439.3" cy="75.2" r="0.4" fill="#888"/>
<circle cx="445.1" cy="95.6" r="0.4" fill="#888"/>
<circle cx="438.8" cy="81.2" r="0.4" fill="#888"/>
<circle cx="448.5" cy="58.0" r="0.4" fill="#888"/>
<circle cx="457.2" cy="80.6" r="0.4" fill="#888"/>
<circle cx="459.5" cy="65.8" r="0.4" fill="#888"/>
<circle cx="468.0" cy="80.4" r="0.4" fill="#888"/>
<circle cx="436.1" cy="86.6" r="0.4" fill="#888"/>
<circle cx="445.0" cy="57.5" r="0.4" fill="#888"/>
<circle cx="440.7" cy="87.9" r="0.4" fill="#888"/>
<circle cx="453.3" cy="70.0" r="0.4" fill="#888"/>
<circle cx="443.0" cy="105.0" r="0.4" fill="#888"/>
<circle cx="468.1" cy="89.5" r="0.4" fill="#888"/>
<circle cx="445.0" cy="63.0" r="0.4" fill="#888"/>
<circle cx="444.7" cy="103.5" r="0.4" fill="#888"/>
<circle cx="454.2" cy="73.6" r="0.4" fill="#888"/>
<circle cx="435.2" cy="80.6" r="0.4" fill="#888"/>
<circle cx="439.1" cy="78.2" r="0.4" fill="#888"/>
<circle cx="457.3" cy="94.4" r="0.4" fill="#888"/>
<circle cx="450.6" cy="72.8" r="0.4" fill="#888"/>
<circle cx="451.5" cy="105.5" r="0.4" fill="#888"/>
<circle cx="453.2" cy="56.6" r="0.4" fill="#888"/>
<circle cx="466.4" cy="81.8" r="0.4" fill="#888"/>
<circle cx="488.0" cy="70.8" r="0.4" fill="#888"/>
<circle cx="447.9" cy="73.5" r="0.4" fill="#888"/>
<circle cx="453.2" cy="69.2" r="0.4" fill="#888"/>
<circle cx="432.5" cy="48.7" r="0.4" fill="#888"/>
<circle cx="447.6" cy="70.2" r="0.4" fill="#888"/>
<circle cx="457.9" cy="94.6" r="0.4" fill="#888"/>
<circle cx="443.4" cy="82.6" r="0.4" fill="#888"/>
<circle cx="446.6" cy="74.9" r="0.4" fill="#888"/>
<circle cx="457.4" cy="87.2" r="0.4" fill="#888"/>
<circle cx="452.4" cy="80.3" r="0.4" fill="#888"/>
<circle cx="432.9" cy="66.7" r="0.4" fill="#888"/>
<circle cx="453.3" cy="72.4" r="0.4" fill="#888"/>
<circle cx="440.3" cy="83.4" r="0.4" fill="#888"/>
<circle cx="438.7" cy="67.8" r="0.4" fill="#888"/>
<circle cx="458.9" cy="72.5" r="0.4" fill="#888"/>
<circle cx="465.0" cy="86.0" r="0.4" fill="#888"/>
<circle cx="458.0" cy="95.2" r="0.4" fill="#888"/>
<circle cx="434.6" cy="70.9" r="0.4" fill="#888"/>
<circle cx="447.8" cy="96.9" r="0.4" fill="#888"/>
<circle cx="448.5" cy="103.0" r="0.4" fill="#888"/>
<circle cx="443.1" cy="77.1" r="0.4" fill="#888"/>
<circle cx="450.0" cy="92.4" r="0.4" fill="#888"/>
<circle cx="448.4" cy="68.6" r="0.4" fill="#888"/>
<circle cx="445.3" cy="56.7" r="0.4" fill="#888"/>
<circle cx="463.0" cy="89.4" r="0.4" fill="#888"/>
<circle cx="453.8" cy="82.2" r="0.4" fill="#888"/>
<circle cx="442.3" cy="71.8" r="0.4" fill="#888"/>
<circle cx="458.0" cy="66.0" r="0.4" fill="#888"/>
<circle cx="440.3" cy="102.0" r="0.4" fill="#888"/>
<circle cx="466.4" cy="82.4" r="0.4" fill="#888"/>
<circle cx="454.9" cy="80.8" r="0.4" fill="#888"/>
<circle cx="464.9" cy="71.3" r="0.4" fill="#888"/>
<circle cx="449.9" cy="85.3" r="0.4" fill="#888"/>
<circle cx="465.0" cy="74.2" r="0.4" fill="#888"/>
<circle cx="451.6" cy="70.6" r="0.4" fill="#888"/>
<circle cx="441.7" cy="68.1" r="0.4" fill="#888"/>
<circle cx="449.9" cy="91.4" r="0.4" fill="#888"/>
<circle cx="441.3" cy="68.9" r="0.4" fill="#888"/>
<circle cx="444.5" cy="83.3" r="0.4" fill="#888"/>
<circle cx="456.8" cy="59.1" r="0.4" fill="#888"/>
<circle cx="452.9" cy="62.9" r="0.4" fill="#888"/>
<circle cx="456.9" cy="63.5" r="0.4" fill="#888"/>
<circle cx="437.0" cy="67.2" r="0.4" fill="#888"/>
<circle cx="448.3" cy="63.0" r="0.4" fill="#888"/>
<circle cx="451.3" cy="80.2" r="0.4" fill="#888"/>
<circle cx="449.9" cy="82.1" r="0.4" fill="#888"/>
<circle cx="458.7" cy="67.0" r="0.4" fill="#888"/>
<circle cx="449.0" cy="77.6" r="0.4" fill="#888"/>
<circle cx="426.3" cy="83.9" r="0.4" fill="#888"/>
<circle cx="440.5" cy="67.2" r="0.4" fill="#888"/>
<circle cx="444.1" cy="79.5" r="0.4" fill="#888"/>
<circle cx="452.7" cy="85.3" r="0.4" fill="#888"/>
<circle cx="441.3" cy="88.5" r="0.4" fill="#888"/>
<circle cx="453.6" cy="72.1" r="0.4" fill="#888"/>
<circle cx="448.8" cy="90.1" r="0.4" fill="#888"/>
<circle cx="453.8" cy="88.5" r="0.4" fill="#888"/>
<circle cx="479.5" cy="81.7" r="0.4" fill="#999"/>
<circle cx="509.2" cy="73.5" r="0.4" fill="#999"/>
<circle cx="455.6" cy="88.8" r="0.4" fill="#999"/>
<circle cx="470.0" cy="51.4" r="0.4" fill="#999"/>
<circle cx="444.8" cy="73.1" r="0.4" fill="#999"/>
<circle cx="493.4" cy="80.0" r="0.4" fill="#999"/>
<circle cx="472.6" cy="85.4" r="0.4" fill="#999"/>
<circle cx="476.9" cy="60.9" r="0.4" fill="#999"/>
<circle cx="479.0" cy="70.6" r="0.4" fill="#999"/>
<circle cx="478.7" cy="72.8" r="0.4" fill="#999"/>
<circle cx="447.3" cy="86.8" r="0.4" fill="#999"/>
<circle cx="470.0" cy="75.8" r="0.4" fill="#999"/>
<circle cx="466.8" cy="70.0" r="0.4" fill="#999"/>
<circle cx="475.5" cy="49.0" r="0.4" fill="#999"/>
<circle cx="483.4" cy="75.6" r="0.4" fill="#999"/>
<circle cx="462.4" cy="42.8" r="0.4" fill="#999"/>
<circle cx="469.0" cy="57.9" r="0.4" fill="#999"/>
<circle cx="479.6" cy="67.8" r="0.4" fill="#999"/>
<circle cx="500.6" cy="75.8" r="0.4" fill="#999"/>
<circle cx="474.4" cy="69.9" r="0.4" fill="#999"/>
<circle cx="437.6" cy="57.1" r="0.4" fill="#999"/>
<circle cx="465.1" cy="66.7" r="0.4" fill="#999"/>
<circle cx="482.5" cy="70.6" r="0.4" fill="#999"/>
<circle cx="491.1" cy="59.7" r="0.4" fill="#999"/>
<circle cx="482.3" cy="66.4" r="0.4" fill="#999"/>
<circle cx="478.2" cy="71.9" r="0.4" fill="#999"/>
<circle cx="474.1" cy="70.5" r="0.4" fill="#999"/>
<circle cx="477.5" cy="80.3" r="0.4" fill="#999"/>
<circle cx="476.4" cy="71.7" r="0.4" fill="#999"/>
<circle cx="485.2" cy="80.9" r="0.4" fill="#999"/>
<circle cx="463.9" cy="76.5" r="0.4" fill="#999"/>
<circle cx="488.5" cy="73.3" r="0.4" fill="#999"/>
<circle cx="491.6" cy="77.4" r="0.4" fill="#999"/>
<circle cx="494.6" cy="60.3" r="0.4" fill="#999"/>
<circle cx="484.0" cy="61.5" r="0.4" fill="#999"/>
<circle cx="495.3" cy="69.6" r="0.4" fill="#999"/>
<circle cx="459.8" cy="69.3" r="0.4" fill="#999"/>
<circle cx="464.0" cy="79.8" r="0.4" fill="#999"/>
<circle cx="473.3" cy="41.8" r="0.4" fill="#999"/>
<circle cx="472.6" cy="80.3" r="0.4" fill="#999"/>
<circle cx="482.6" cy="60.4" r="0.4" fill="#999"/>
<circle cx="487.0" cy="74.9" r="0.4" fill="#999"/>
<circle cx="498.5" cy="78.8" r="0.4" fill="#999"/>
<circle cx="483.1" cy="58.6" r="0.4" fill="#999"/>
<circle cx="482.0" cy="71.6" r="0.4" fill="#999"/>
<circle cx="478.2" cy="73.0" r="0.4" fill="#999"/>
<circle cx="461.5" cy="74.8" r="0.4" fill="#999"/>
<circle cx="478.1" cy="72.3" r="0.4" fill="#999"/>
<circle cx="476.7" cy="64.4" r="0.4" fill="#999"/>
<circle cx="481.6" cy="77.4" r="0.4" fill="#999"/>
<circle cx="473.5" cy="71.9" r="0.4" fill="#999"/>
<circle cx="467.3" cy="73.0" r="0.4" fill="#999"/>
<circle cx="478.3" cy="52.7" r="0.4" fill="#999"/>
<circle cx="494.2" cy="57.4" r="0.4" fill="#999"/>
<circle cx="479.1" cy="52.3" r="0.4" fill="#999"/>
<circle cx="453.9" cy="75.9" r="0.4" fill="#999"/>
<circle cx="458.5" cy="43.3" r="0.4" fill="#999"/>
<circle cx="475.0" cy="49.5" r="0.4" fill="#999"/>
<circle cx="475.2" cy="89.8" r="0.4" fill="#999"/>
<circle cx="472.5" cy="72.3" r="0.4" fill="#999"/>
<circle cx="485.8" cy="70.9" r="0.4" fill="#999"/>
<circle cx="476.3" cy="86.0" r="0.4" fill="#999"/>
<circle cx="476.9" cy="72.2" r="0.4" fill="#999"/>
<circle cx="479.5" cy="52.7" r="0.4" fill="#999"/>
<circle cx="482.4" cy="68.7" r="0.4" fill="#999"/>
<circle cx="487.0" cy="76.2" r="0.4" fill="#999"/>
<circle cx="499.8" cy="45.4" r="0.4" fill="#999"/>
<circle cx="470.3" cy="62.4" r="0.4" fill="#999"/>
<circle cx="466.0" cy="72.9" r="0.4" fill="#999"/>
<circle cx="476.9" cy="69.7" r="0.4" fill="#999"/>
<circle cx="455.4" cy="56.6" r="0.4" fill="#999"/>
<circle cx="477.1" cy="62.7" r="0.4" fill="#999"/>
<circle cx="469.6" cy="66.6" r="0.4" fill="#999"/>
<circle cx="474.2" cy="55.4" r="0.4" fill="#999"/>
<circle cx="501.1" cy="60.0" r="0.4" fill="#999"/>
<circle cx="487.0" cy="75.1" r="0.4" fill="#999"/>
<circle cx="491.4" cy="61.2" r="0.4" fill="#999"/>
<circle cx="464.2" cy="73.2" r="0.4" fill="#999"/>
<circle cx="481.6" cy="40.0" r="0.4" fill="#999"/>
<circle cx="441.8" cy="61.5" r="0.4" fill="#999"/>
<circle cx="472.6" cy="64.8" r="0.4" fill="#999"/>
<circle cx="483.7" cy="56.5" r="0.4" fill="#999"/>
<circle cx="496.0" cy="71.2" r="0.4" fill="#999"/>
<circle cx="449.3" cy="70.8" r="0.4" fill="#999"/>
<circle cx="470.4" cy="73.2" r="0.4" fill="#999"/>
<circle cx="476.4" cy="75.9" r="0.4" fill="#999"/>
<circle cx="465.8" cy="63.7" r="0.4" fill="#999"/>
<circle cx="478.1" cy="59.1" r="0.4" fill="#999"/>
<defs><radialGradient id="gC" cx="0.5" cy="0.62" r="0.55"><stop offset="0" stop-color="#fff" stop-opacity="0.9"/><stop offset="0.1" stop-color="#666" stop-opacity="0.6"/><stop offset="0.5" stop-color="#888" stop-opacity="0.4"/><stop offset="1" stop-color="#bbb" stop-opacity="0.05"/></radialGradient></defs>
<ellipse cx="447.2" cy="80.5" rx="14" ry="24" fill="url(#gC)" transform="rotate(8 447.2 80.5)"/>
<polygon points="453.33,54.59 454.29,54.97 455.19,55.68 456.04,56.73 456.83,58.11 457.59,59.79 458.31,61.78 458.97,64.03 459.59,66.54 460.14,69.27 460.60,72.18 460.96,75.25 461.20,78.44 461.27,81.70 461.16,85.00 460.79,88.27 460.29,90.24 459.64,92.15 458.86,93.99 457.94,95.73 456.90,97.36 455.75,98.86 454.50,100.21 453.16,101.39 451.76,102.40 450.30,103.22 448.80,103.84 447.29,104.27 445.76,104.48 444.25,104.48 442.77,104.28 441.33,103.86 439.95,103.24 438.64,102.43 437.43,101.43 436.31,100.25 435.32,98.90 434.44,97.41 433.71,95.79 433.11,94.05 432.67,92.21 432.38,90.30 432.25,88.34 432.28,86.34 432.47,84.33 432.81,82.33 433.81,79.18 435.04,76.13 436.44,73.18 437.95,70.36 439.52,67.70 441.14,65.23 442.75,62.96 444.33,60.92 445.86,59.13 447.32,57.61 448.69,56.38 449.98,55.45 451.18,54.83 452.30,54.54" fill="none" stroke="#999" stroke-width="0.5"/>
<polygon points="452.71,57.29 453.59,57.63 454.40,58.28 455.17,59.23 455.89,60.47 456.58,61.99 457.23,63.78 457.84,65.82 458.40,68.09 458.90,70.55 459.32,73.19 459.65,75.96 459.86,78.84 459.93,81.78 459.83,84.76 459.50,87.71 459.05,89.49 458.46,91.22 457.75,92.89 456.92,94.46 455.97,95.94 454.93,97.29 453.80,98.51 452.59,99.58 451.32,100.49 450.00,101.23 448.64,101.80 447.27,102.18 445.89,102.37 444.52,102.37 443.17,102.19 441.87,101.81 440.62,101.25 439.43,100.51 438.33,99.61 437.32,98.54 436.42,97.32 435.63,95.97 434.96,94.50 434.42,92.93 434.02,91.27 433.76,89.54 433.64,87.76 433.66,85.95 433.83,84.13 434.14,82.33 435.04,79.49 436.16,76.73 437.42,74.07 438.79,71.52 440.22,69.12 441.67,66.89 443.13,64.84 444.56,63.00 445.95,61.39 447.27,60.02 448.52,58.90 449.68,58.06 450.77,57.51 451.78,57.25" fill="none" stroke="#888" stroke-width="0.5"/>
<polygon points="452.10,59.99 452.88,60.30 453.61,60.88 454.30,61.73 454.95,62.84 455.57,64.20 456.15,65.79 456.70,67.61 457.20,69.64 457.65,71.84 458.03,74.19 458.33,76.66 458.52,79.23 458.59,81.86 458.50,84.52 458.21,87.16 457.80,88.75 457.28,90.30 456.64,91.78 455.90,93.19 455.05,94.51 454.12,95.72 453.10,96.81 452.02,97.77 450.88,98.58 449.70,99.25 448.48,99.75 447.25,100.09 446.01,100.26 444.78,100.27 443.58,100.10 442.41,99.76 441.28,99.26 440.22,98.60 439.23,97.79 438.33,96.83 437.52,95.74 436.81,94.54 436.21,93.22 435.73,91.81 435.36,90.33 435.13,88.78 435.02,87.19 435.04,85.57 435.19,83.94 435.47,82.32 436.28,79.79 437.28,77.33 438.41,74.95 439.63,72.69 440.91,70.55 442.21,68.55 443.52,66.73 444.80,65.08 446.04,63.64 447.22,62.42 448.34,61.43 449.38,60.68 450.36,60.19 451.26,59.96" fill="none" stroke="#777" stroke-width="0.5"/>
<polygon points="451.49,62.70 452.18,62.97 452.83,63.48 453.44,64.22 454.01,65.20 454.56,66.40 455.08,67.80 455.56,69.41 456.01,71.18 456.41,73.12 456.75,75.19 457.01,77.37 457.19,79.63 457.25,81.94 457.17,84.27 456.92,86.60 456.56,88.00 456.10,89.37 455.53,90.68 454.87,91.92 454.13,93.08 453.30,94.15 452.41,95.11 451.45,95.96 450.44,96.68 449.39,97.26 448.32,97.71 447.23,98.00 446.13,98.16 445.05,98.16 443.98,98.01 442.95,97.71 441.95,97.27 441.01,96.68 440.14,95.97 439.34,95.12 438.62,94.16 437.99,93.10 437.46,91.94 437.03,90.69 436.71,89.38 436.50,88.02 436.41,86.61 436.43,85.19 436.56,83.75 436.80,82.32 437.51,80.10 438.39,77.93 439.39,75.84 440.47,73.85 441.60,71.97 442.75,70.22 443.90,68.61 445.03,67.17 446.13,65.90 447.17,64.83 448.16,63.96 449.08,63.30 449.94,62.87 450.74,62.66" fill="none" stroke="#6a6a6a" stroke-width="0.5"/>
<polygon points="450.87,65.40 451.47,65.64 452.04,66.08 452.57,66.72 453.07,67.56 453.55,68.60 454.00,69.81 454.42,71.20 454.82,72.73 455.17,74.40 455.46,76.19 455.70,78.07 455.85,80.02 455.91,82.02 455.85,84.03 455.62,86.04 455.32,87.26 454.91,88.44 454.43,89.57 453.85,90.65 453.21,91.66 452.49,92.58 451.71,93.42 450.88,94.15 450.00,94.77 449.09,95.27 448.16,95.66 447.21,95.92 446.26,96.05 445.31,96.05 444.39,95.92 443.48,95.66 442.62,95.27 441.80,94.77 441.04,94.15 440.35,93.42 439.72,92.58 439.17,91.66 438.71,90.65 438.34,89.58 438.06,88.44 437.88,87.26 437.79,86.04 437.81,84.80 437.92,83.56 438.14,82.32 438.75,80.40 439.51,78.53 440.38,76.73 441.31,75.01 442.29,73.39 443.29,71.88 444.29,70.49 445.27,69.25 446.22,68.16 447.13,67.23 447.98,66.48 448.78,65.92 449.53,65.54 450.23,65.37" fill="none" stroke="#5a5a5a" stroke-width="0.5"/>
<polygon points="450.26,68.10 450.77,68.30 451.25,68.67 451.70,69.22 452.13,69.93 452.54,70.80 452.92,71.82 453.29,72.99 453.62,74.28 453.92,75.69 454.18,77.19 454.38,78.77 454.52,80.42 454.57,82.10 454.52,83.79 454.33,85.48 454.07,86.51 453.73,87.51 453.32,88.47 452.83,89.38 452.28,90.23 451.67,91.01 451.01,91.72 450.31,92.34 449.56,92.86 448.79,93.29 448.00,93.61 447.19,93.83 446.38,93.94 445.58,93.94 444.79,93.83 444.02,93.61 443.29,93.28 442.60,92.85 441.95,92.33 441.36,91.71 440.82,91.00 440.36,90.22 439.96,89.37 439.65,88.46 439.41,87.50 439.25,86.49 439.18,85.47 439.19,84.42 439.29,83.37 439.47,82.32 439.98,80.70 440.63,79.13 441.36,77.62 442.15,76.17 442.98,74.81 443.82,73.54 444.67,72.38 445.50,71.33 446.31,70.42 447.08,69.64 447.80,69.01 448.48,68.53 449.12,68.22 449.71,68.08" fill="none" stroke="#555" stroke-width="0.5"/>
<polygon points="449.64,70.81 450.07,70.97 450.46,71.27 450.84,71.72 451.19,72.29 451.53,73.00 451.85,73.83 452.15,74.78 452.43,75.83 452.68,76.97 452.90,78.19 453.07,79.48 453.18,80.81 453.23,82.18 453.19,83.55 453.04,84.92 452.83,85.76 452.55,86.58 452.21,87.37 451.81,88.11 451.36,88.81 450.86,89.44 450.32,90.02 449.73,90.52 449.12,90.95 448.49,91.30 447.83,91.57 447.17,91.74 446.51,91.83 445.84,91.83 445.19,91.74 444.56,91.56 443.96,91.29 443.39,90.94 442.85,90.51 442.36,90.00 441.92,89.42 441.54,88.78 441.21,88.09 440.95,87.34 440.75,86.55 440.62,85.73 440.56,84.89 440.57,84.03 440.65,83.17 440.80,82.32 441.22,81.01 441.75,79.74 442.34,78.51 442.99,77.34 443.67,76.23 444.36,75.20 445.06,74.26 445.74,73.42 446.40,72.67 447.03,72.04 447.63,71.54 448.19,71.15 448.71,70.90 449.19,70.78" fill="none" stroke="#4a4a4a" stroke-width="0.5"/>
<polygon points="449.03,73.51 449.36,73.64 449.67,73.87 449.97,74.21 450.25,74.66 450.52,75.20 450.77,75.84 451.01,76.57 451.24,77.38 451.44,78.26 451.61,79.20 451.75,80.18 451.84,81.21 451.89,82.26 451.86,83.31 451.75,84.36 451.59,85.02 451.37,85.65 451.10,86.26 450.79,86.84 450.44,87.38 450.05,87.88 449.62,88.32 449.16,88.71 448.68,89.05 448.18,89.32 447.67,89.52 447.15,89.66 446.63,89.72 446.11,89.72 445.60,89.65 445.10,89.51 444.63,89.30 444.18,89.02 443.76,88.69 443.37,88.29 443.03,87.84 442.72,87.34 442.47,86.80 442.26,86.22 442.10,85.61 442.00,84.97 441.95,84.32 441.95,83.65 442.01,82.98 442.13,82.32 442.45,81.31 442.86,80.34 443.33,79.40 443.83,78.50 444.36,77.65 444.90,76.87 445.44,76.15 445.97,75.50 446.49,74.93 446.98,74.45 447.45,74.06 447.89,73.77 448.29,73.58 448.67,73.49" fill="none" stroke="#444" stroke-width="0.5"/>
<polygon points="448.42,76.21 448.66,76.30 448.89,76.47 449.10,76.71 449.31,77.02 449.51,77.40 449.70,77.85 449.87,78.36 450.04,78.93 450.19,79.54 450.33,80.20 450.43,80.89 450.51,81.60 450.55,82.33 450.54,83.07 450.46,83.80 450.34,84.27 450.19,84.72 449.99,85.16 449.77,85.57 449.51,85.95 449.23,86.31 448.92,86.62 448.59,86.90 448.24,87.14 447.88,87.33 447.51,87.47 447.13,87.57 446.75,87.62 446.37,87.61 446.00,87.56 445.64,87.46 445.30,87.31 444.97,87.11 444.66,86.87 444.38,86.58 444.13,86.26 443.91,85.91 443.72,85.52 443.56,85.10 443.45,84.67 443.37,84.21 443.33,83.74 443.34,83.27 443.38,82.79 443.46,82.32 443.69,81.62 443.98,80.94 444.31,80.29 444.67,79.66 445.05,79.08 445.44,78.53 445.83,78.03 446.21,77.58 446.58,77.19 446.93,76.86 447.27,76.59 447.59,76.39 447.88,76.26 448.16,76.20" fill="none" stroke="#444" stroke-width="0.5"/>
<polygon points="447.80,78.92 447.95,78.97 448.10,79.07 448.24,79.21 448.37,79.39 448.50,79.61 448.62,79.86 448.74,80.15 448.85,80.48 448.95,80.83 449.04,81.20 449.12,81.59 449.17,82.00 449.20,82.41 449.21,82.83 449.17,83.25 449.10,83.52 449.00,83.79 448.89,84.05 448.75,84.30 448.59,84.53 448.42,84.74 448.23,84.93 448.02,85.09 447.81,85.23 447.58,85.34 447.35,85.43 447.11,85.48 446.88,85.51 446.64,85.50 446.41,85.47 446.18,85.41 445.97,85.31 445.76,85.19 445.57,85.05 445.39,84.88 445.23,84.68 445.09,84.47 444.97,84.23 444.87,83.98 444.80,83.72 444.75,83.45 444.72,83.17 444.72,82.88 444.74,82.60 444.79,82.31 444.92,81.92 445.10,81.54 445.29,81.17 445.51,80.83 445.74,80.50 445.97,80.19 446.21,79.91 446.44,79.66 446.67,79.45 446.89,79.26 447.09,79.11 447.29,79.00 447.47,78.93 447.64,78.90" fill="none" stroke="#555" stroke-width="0.5"/>
<polygon points="447.19,81.62 447.25,81.64 447.31,81.67 447.37,81.70 447.43,81.75 447.49,81.81 447.54,81.87 447.60,81.94 447.66,82.02 447.71,82.11 447.76,82.20 447.80,82.30 447.84,82.39 447.86,82.49 447.88,82.59 447.88,82.69 447.86,82.78 447.82,82.87 447.78,82.95 447.73,83.03 447.67,83.10 447.60,83.17 447.53,83.23 447.45,83.28 447.37,83.32 447.28,83.36 447.19,83.38 447.09,83.40 447.00,83.40 446.91,83.40 446.81,83.38 446.72,83.36 446.63,83.32 446.55,83.28 446.47,83.23 446.40,83.17 446.33,83.10 446.27,83.03 446.22,82.95 446.18,82.87 446.14,82.78 446.12,82.69 446.10,82.59 446.10,82.50 446.10,82.41 446.12,82.31 446.16,82.23 446.21,82.14 446.28,82.06 446.35,81.99 446.43,81.92 446.51,81.86 446.60,81.80 446.68,81.75 446.76,81.70 446.84,81.67 446.91,81.64 446.99,81.62 447.06,81.61 447.12,81.61" fill="none" stroke="#777" stroke-width="0.5"/>
<ellipse cx="486" cy="85.6" rx="11.5" ry="7.6" fill="url(#gB)"/>
<ellipse cx="487.50" cy="85.50" rx="11.40" ry="7.50" fill="none" stroke="#777" stroke-width="0.5"/>
<ellipse cx="487.18" cy="85.56" rx="10.22" ry="6.74" fill="none" stroke="#777" stroke-width="0.5"/>
<ellipse cx="486.86" cy="85.61" rx="9.04" ry="5.99" fill="none" stroke="#777" stroke-width="0.5"/>
<ellipse cx="486.53" cy="85.67" rx="7.87" ry="5.23" fill="none" stroke="#444" stroke-width="0.5"/>
<ellipse cx="486.21" cy="85.72" rx="6.69" ry="4.48" fill="none" stroke="#444" stroke-width="0.5"/>
<ellipse cx="485.89" cy="85.78" rx="5.51" ry="3.72" fill="none" stroke="#444" stroke-width="0.5"/>
<ellipse cx="485.57" cy="85.83" rx="4.33" ry="2.97" fill="none" stroke="#444" stroke-width="0.5"/>
<ellipse cx="485.24" cy="85.89" rx="3.16" ry="2.21" fill="none" stroke="#444" stroke-width="0.5"/>
<ellipse cx="484.92" cy="85.94" rx="1.98" ry="1.46" fill="none" stroke="#444" stroke-width="0.5"/>
<ellipse cx="484.60" cy="86.00" rx="0.80" ry="0.70" fill="none" stroke="#444" stroke-width="0.5"/>
<ellipse cx="473" cy="86" rx="3.2" ry="3" fill="none" stroke="#888" stroke-width="0.45"/>
<line x1="455.00" y1="22.60" x2="455.00" y2="110.60" stroke="#111" stroke-width="1.0"/>
<line x1="424.40" y1="74.40" x2="512.60" y2="74.40" stroke="#111" stroke-width="1.0"/>
<line x1="77.40" y1="160.50" x2="77.40" y2="260.00" stroke="#111" stroke-width="1.1"/>
<line x1="33.80" y1="260.00" x2="160.60" y2="260.00" stroke="#222" stroke-width="1.1"/>
<line x1="37.50" y1="260.00" x2="37.50" y2="262.60" stroke="#222" stroke-width="0.9"/>
<text x="36.6" y="271.1" font-size="7.2" text-anchor="middle" font-weight="normal" fill="#222" textLength="15" lengthAdjust="spacingAndGlyphs"  stroke="#222" stroke-width="0.14">−0.5</text>
<line x1="77.50" y1="260.00" x2="77.50" y2="262.60" stroke="#222" stroke-width="0.9"/>
<text x="77.5" y="271.1" font-size="7.2" text-anchor="middle" font-weight="normal" fill="#222" textLength="10.75" lengthAdjust="spacingAndGlyphs"  stroke="#222" stroke-width="0.14">0.0</text>
<line x1="117.50" y1="260.00" x2="117.50" y2="262.60" stroke="#222" stroke-width="0.9"/>
<text x="117.5" y="271.1" font-size="7.2" text-anchor="middle" font-weight="normal" fill="#222" textLength="10.75" lengthAdjust="spacingAndGlyphs"  stroke="#222" stroke-width="0.14">0.5</text>
<line x1="157.50" y1="260.00" x2="157.50" y2="262.60" stroke="#222" stroke-width="0.9"/>
<text x="157.5" y="271.1" font-size="7.2" text-anchor="middle" font-weight="normal" fill="#222" textLength="10.4" lengthAdjust="spacingAndGlyphs"  stroke="#222" stroke-width="0.14">1.0</text>
<text x="72.8" y="284.1" font-size="8.7" text-anchor="start" font-weight="bold" fill="#222" textLength="48.7" lengthAdjust="spacingAndGlyphs" >Log2 fold change</text>
<text x="36.0" y="170.9" font-size="7.9" text-anchor="end" font-weight="normal" fill="#222" textLength="25.2" lengthAdjust="spacingAndGlyphs"  stroke="#222" stroke-width="0.14">SELPG</text>
<text x="36.0" y="191.0" font-size="7.9" text-anchor="end" font-weight="normal" fill="#222" textLength="22.2" lengthAdjust="spacingAndGlyphs"  stroke="#222" stroke-width="0.14">ITGB1</text>
<text x="36.0" y="211.1" font-size="7.9" text-anchor="end" font-weight="normal" fill="#222" textLength="22.5" lengthAdjust="spacingAndGlyphs"  stroke="#222" stroke-width="0.14">ITGB2</text>
<text x="36.0" y="231.1" font-size="7.9" text-anchor="end" font-weight="normal" fill="#222" textLength="23.2" lengthAdjust="spacingAndGlyphs"  stroke="#222" stroke-width="0.14">ITGAM</text>
<text x="36.0" y="251.1" font-size="7.9" text-anchor="end" font-weight="normal" fill="#222" textLength="21.7" lengthAdjust="spacingAndGlyphs"  stroke="#222" stroke-width="0.14">ITGAX</text>
<rect x="54.50" y="169.30" width="22.90" height="7.50" fill="#c8102e"/>
<rect x="45.00" y="189.30" width="32.40" height="7.50" fill="#c8102e"/>
<rect x="77.40" y="200.80" width="34.40" height="7.50" fill="#1a4f8b"/>
<rect x="77.40" y="208.30" width="1.40" height="8.50" fill="#c8102e"/>
<rect x="77.40" y="221.20" width="34.40" height="7.30" fill="#1a4f8b"/>
<rect x="77.40" y="229.50" width="64.60" height="7.50" fill="#c8102e"/>
<circle cx="117.60" cy="204.60" r="0.95" fill="#222"/>
<circle cx="119.20" cy="224.30" r="0.95" fill="#222"/>
<circle cx="148.30" cy="232.60" r="0.95" fill="#222"/>
<rect x="91.2" y="162" width="5" height="4.8" fill="#1a4f8b"/>
<rect x="91.2" y="170.9" width="5" height="4.8" fill="#c8102e"/>
<text x="99.3" y="166.9" font-size="6.8" text-anchor="start" font-weight="normal" fill="#222" textLength="44.4" lengthAdjust="spacingAndGlyphs"  stroke="#222" stroke-width="0.14">CD14<tspan font-size="4.4" dy="-2.5">+</tspan><tspan dy="2.5">CD16<tspan font-size="4.4" dy="-2.5">−</tspan><tspan dy="2.5"></tspan></tspan></text>
<text x="99.3" y="175.8" font-size="6.8" text-anchor="start" font-weight="normal" fill="#222" textLength="44.4" lengthAdjust="spacingAndGlyphs"  stroke="#222" stroke-width="0.14">CD14<tspan font-size="4.4" dy="-2.5">+</tspan><tspan dy="2.5">CD16<tspan font-size="4.4" dy="-2.5">+</tspan><tspan dy="2.5"></tspan></tspan></text>
<line x1="211.20" y1="160.90" x2="211.20" y2="260.60" stroke="#222" stroke-width="1.25"/>
<line x1="210.60" y1="260.10" x2="288.00" y2="260.10" stroke="#222" stroke-width="1.25"/>
<line x1="208.10" y1="259.90" x2="211.20" y2="259.90" stroke="#222" stroke-width="1.0"/>
<text x="205.2" y="263.2" font-size="7.2" text-anchor="end" font-weight="normal" fill="#222" textLength="4.3" lengthAdjust="spacingAndGlyphs"  stroke="#222" stroke-width="0.14">0</text>
<line x1="208.10" y1="236.44" x2="211.20" y2="236.44" stroke="#222" stroke-width="1.0"/>
<text x="205.2" y="239.73749999999998" font-size="7.2" text-anchor="end" font-weight="normal" fill="#222" textLength="8.3" lengthAdjust="spacingAndGlyphs"  stroke="#222" stroke-width="0.14">25</text>
<line x1="208.10" y1="212.97" x2="211.20" y2="212.97" stroke="#222" stroke-width="1.0"/>
<text x="205.2" y="216.27499999999998" font-size="7.2" text-anchor="end" font-weight="normal" fill="#222" textLength="8.3" lengthAdjust="spacingAndGlyphs"  stroke="#222" stroke-width="0.14">50</text>
<line x1="208.10" y1="189.51" x2="211.20" y2="189.51" stroke="#222" stroke-width="1.0"/>
<text x="205.2" y="192.8125" font-size="7.2" text-anchor="end" font-weight="normal" fill="#222" textLength="8.3" lengthAdjust="spacingAndGlyphs"  stroke="#222" stroke-width="0.14">75</text>
<line x1="208.10" y1="166.05" x2="211.20" y2="166.05" stroke="#222" stroke-width="1.0"/>
<text x="205.2" y="169.35" font-size="7.2" text-anchor="end" font-weight="normal" fill="#222" textLength="12.6" lengthAdjust="spacingAndGlyphs"  stroke="#222" stroke-width="0.14">100</text>
<text transform="translate(186.6,229.4) rotate(-90)" font-size="7.6" text-anchor="start" fill="#222" font-weight="normal" textLength="34.6" lengthAdjust="spacingAndGlyphs" stroke="#222" stroke-width="0.3">CD11b<tspan font-size="5.0" dy="-2.9">+</tspan><tspan dy="2.9"> <tspan font-size="8.8">(%)</tspan></tspan></text>
<line x1="227.80" y1="177.60" x2="227.80" y2="255.20" stroke="#3a3a3a" stroke-width="1.0"/>
<rect x="218.95" y="183.10" width="17.70" height="46.80" fill="#86a5c6"/>
<line x1="218.95" y1="205.50" x2="236.65" y2="205.50" stroke="#222" stroke-width="1.1"/>
<circle cx="224.80" cy="177.60" r="1.45" fill="#1a4f8b"/>
<circle cx="230.60" cy="177.60" r="1.45" fill="#1a4f8b"/>
<circle cx="227.40" cy="185.00" r="1.45" fill="#1a4f8b"/>
<circle cx="224.80" cy="195.30" r="1.45" fill="#1a4f8b"/>
<circle cx="230.60" cy="200.00" r="1.45" fill="#1a4f8b"/>
<circle cx="227.40" cy="210.60" r="1.45" fill="#1a4f8b"/>
<circle cx="227.40" cy="217.70" r="1.45" fill="#1a4f8b"/>
<circle cx="227.40" cy="224.70" r="1.45" fill="#1a4f8b"/>
<circle cx="227.40" cy="245.90" r="1.45" fill="#1a4f8b"/>
<circle cx="227.40" cy="255.20" r="1.45" fill="#1a4f8b"/>
<line x1="224.08" y1="177.60" x2="231.52" y2="177.60" stroke="#2a2a2a" stroke-width="1.0"/>
<line x1="224.08" y1="255.20" x2="231.52" y2="255.20" stroke="#2a2a2a" stroke-width="1.0"/>
<line x1="249.70" y1="177.60" x2="249.70" y2="232.80" stroke="#3a3a3a" stroke-width="1.0"/>
<rect x="240.85" y="177.60" width="17.70" height="52.30" fill="#9fd9a3"/>
<line x1="240.85" y1="200.70" x2="258.55" y2="200.70" stroke="#222" stroke-width="1.1"/>
<circle cx="246.60" cy="179.20" r="1.45" fill="#2fb24a"/>
<circle cx="252.00" cy="178.30" r="1.45" fill="#2fb24a"/>
<circle cx="249.80" cy="220.90" r="1.45" fill="#2fb24a"/>
<circle cx="249.80" cy="232.80" r="1.45" fill="#2fb24a"/>
<line x1="245.98" y1="177.60" x2="253.42" y2="177.60" stroke="#2a2a2a" stroke-width="1.0"/>
<line x1="245.98" y1="232.80" x2="253.42" y2="232.80" stroke="#2a2a2a" stroke-width="1.0"/>
<line x1="270.90" y1="165.10" x2="270.90" y2="219.00" stroke="#3a3a3a" stroke-width="1.0"/>
<rect x="261.70" y="168.90" width="18.40" height="10.80" fill="#e99aa8"/>
<line x1="261.70" y1="171.20" x2="280.10" y2="171.20" stroke="#222" stroke-width="1.1"/>
<circle cx="265.80" cy="165.10" r="1.45" fill="#c8102e"/>
<circle cx="276.30" cy="165.10" r="1.45" fill="#c8102e"/>
<circle cx="263.50" cy="169.60" r="1.45" fill="#c8102e"/>
<circle cx="268.00" cy="168.50" r="1.45" fill="#c8102e"/>
<circle cx="271.20" cy="169.60" r="1.45" fill="#c8102e"/>
<circle cx="274.00" cy="168.50" r="1.45" fill="#c8102e"/>
<circle cx="277.40" cy="170.30" r="1.45" fill="#c8102e"/>
<circle cx="265.10" cy="171.80" r="1.45" fill="#c8102e"/>
<circle cx="273.00" cy="172.50" r="1.45" fill="#c8102e"/>
<circle cx="269.60" cy="175.20" r="1.45" fill="#c8102e"/>
<circle cx="277.40" cy="174.70" r="1.45" fill="#c8102e"/>
<circle cx="268.90" cy="178.60" r="1.45" fill="#c8102e"/>
<circle cx="271.80" cy="178.60" r="1.45" fill="#c8102e"/>
<circle cx="274.00" cy="180.10" r="1.45" fill="#c8102e"/>
<circle cx="274.00" cy="182.00" r="1.45" fill="#c8102e"/>
<circle cx="268.50" cy="185.30" r="1.45" fill="#c8102e"/>
<circle cx="265.80" cy="196.50" r="1.45" fill="#c8102e"/>
<circle cx="271.20" cy="197.20" r="1.45" fill="#c8102e"/>
<circle cx="276.30" cy="194.70" r="1.45" fill="#c8102e"/>
<circle cx="271.20" cy="219.00" r="1.45" fill="#c8102e"/>
<line x1="267.04" y1="165.10" x2="274.76" y2="165.10" stroke="#2a2a2a" stroke-width="1.0"/>
<line x1="267.04" y1="219.00" x2="274.76" y2="219.00" stroke="#2a2a2a" stroke-width="1.0"/>
<circle cx="271.20" cy="159.20" r="0.9" fill="#222"/>
<line x1="227.80" y1="260.10" x2="227.80" y2="262.90" stroke="#222" stroke-width="1.0"/>
<text transform="translate(229.9,269.4) rotate(-45)" font-size="7.6" text-anchor="end" fill="#222" font-weight="normal" textLength="26" lengthAdjust="spacingAndGlyphs" stroke="#222" stroke-width="0.14">Control</text>
<line x1="249.60" y1="260.10" x2="249.60" y2="262.90" stroke="#222" stroke-width="1.0"/>
<text transform="translate(251.7,269.4) rotate(-45)" font-size="7.6" text-anchor="end" fill="#222" font-weight="normal" textLength="14.5" lengthAdjust="spacingAndGlyphs" stroke="#222" stroke-width="0.14">Mild</text>
<line x1="271.50" y1="260.10" x2="271.50" y2="262.90" stroke="#222" stroke-width="1.0"/>
<text transform="translate(273.6,269.4) rotate(-45)" font-size="7.6" text-anchor="end" fill="#222" font-weight="normal" textLength="24" lengthAdjust="spacingAndGlyphs" stroke="#222" stroke-width="0.14">Severe</text>
<line x1="337.40" y1="161.00" x2="337.40" y2="260.40" stroke="#222" stroke-width="1.25"/>
<line x1="336.80" y1="259.80" x2="400.60" y2="259.80" stroke="#222" stroke-width="1.25"/>
<line x1="334.20" y1="247.25" x2="337.40" y2="247.25" stroke="#222" stroke-width="1.0"/>
<text x="331.7" y="249.95" font-size="7.2" text-anchor="end" font-weight="normal" fill="#222" textLength="8.3" lengthAdjust="spacingAndGlyphs"  stroke="#222" stroke-width="0.14">40</text>
<line x1="334.20" y1="220.25" x2="337.40" y2="220.25" stroke="#222" stroke-width="1.0"/>
<text x="331.7" y="222.95" font-size="7.2" text-anchor="end" font-weight="normal" fill="#222" textLength="8.3" lengthAdjust="spacingAndGlyphs"  stroke="#222" stroke-width="0.14">60</text>
<line x1="334.20" y1="193.25" x2="337.40" y2="193.25" stroke="#222" stroke-width="1.0"/>
<text x="331.7" y="195.95" font-size="7.2" text-anchor="end" font-weight="normal" fill="#222" textLength="8.3" lengthAdjust="spacingAndGlyphs"  stroke="#222" stroke-width="0.14">80</text>
<line x1="334.20" y1="166.25" x2="337.40" y2="166.25" stroke="#222" stroke-width="1.0"/>
<text x="331.7" y="168.95" font-size="7.2" text-anchor="end" font-weight="normal" fill="#222" textLength="13.0" lengthAdjust="spacingAndGlyphs"  stroke="#222" stroke-width="0.14">100</text>
<text transform="translate(313.3,223.3) rotate(-90)" font-size="7.6" text-anchor="start" fill="#222" font-weight="normal" textLength="34.5" lengthAdjust="spacingAndGlyphs" stroke="#222" stroke-width="0.3">CD11b<tspan font-size="5.0" dy="-2.9">+</tspan><tspan dy="2.9"> <tspan font-size="8.8">(%)</tspan></tspan></text>
<line x1="356.40" y1="168.80" x2="356.40" y2="240.70" stroke="#3a3a3a" stroke-width="1.0"/>
<rect x="346.30" y="168.80" width="20.20" height="41.60" fill="#9fd9a3"/>
<line x1="346.30" y1="183.80" x2="366.50" y2="183.80" stroke="#222" stroke-width="1.1"/>
<circle cx="353.00" cy="169.40" r="1.45" fill="#2fb24a"/>
<circle cx="359.60" cy="168.60" r="1.45" fill="#2fb24a"/>
<circle cx="353.00" cy="178.10" r="1.45" fill="#2fb24a"/>
<circle cx="359.60" cy="183.80" r="1.45" fill="#2fb24a"/>
<circle cx="356.40" cy="192.50" r="1.45" fill="#2fb24a"/>
<circle cx="356.40" cy="209.80" r="1.45" fill="#2fb24a"/>
<circle cx="356.40" cy="240.70" r="1.45" fill="#2fb24a"/>
<line x1="352.16" y1="168.80" x2="360.64" y2="168.80" stroke="#2a2a2a" stroke-width="1.0"/>
<line x1="352.16" y1="240.70" x2="360.64" y2="240.70" stroke="#2a2a2a" stroke-width="1.0"/>
<line x1="381.20" y1="167.40" x2="381.20" y2="208.90" stroke="#3a3a3a" stroke-width="1.0"/>
<rect x="371.15" y="170.90" width="20.10" height="7.20" fill="#e99aa8"/>
<line x1="371.15" y1="171.40" x2="391.25" y2="171.40" stroke="#222" stroke-width="1.1"/>
<circle cx="375.20" cy="167.40" r="1.45" fill="#c8102e"/>
<circle cx="379.50" cy="168.30" r="1.45" fill="#c8102e"/>
<circle cx="383.50" cy="167.80" r="1.45" fill="#c8102e"/>
<circle cx="387.80" cy="167.30" r="1.45" fill="#c8102e"/>
<circle cx="373.80" cy="170.60" r="1.45" fill="#c8102e"/>
<circle cx="377.20" cy="171.00" r="1.45" fill="#c8102e"/>
<circle cx="381.00" cy="170.40" r="1.45" fill="#c8102e"/>
<circle cx="385.00" cy="170.40" r="1.45" fill="#c8102e"/>
<circle cx="389.00" cy="171.00" r="1.45" fill="#c8102e"/>
<circle cx="376.50" cy="173.40" r="1.45" fill="#c8102e"/>
<circle cx="384.30" cy="173.80" r="1.45" fill="#c8102e"/>
<circle cx="380.30" cy="175.30" r="1.45" fill="#c8102e"/>
<circle cx="383.30" cy="176.00" r="1.45" fill="#c8102e"/>
<circle cx="379.00" cy="184.70" r="1.45" fill="#c8102e"/>
<circle cx="381.80" cy="183.80" r="1.45" fill="#c8102e"/>
<circle cx="384.70" cy="190.50" r="1.45" fill="#c8102e"/>
<circle cx="381.20" cy="208.90" r="1.45" fill="#c8102e"/>
<circle cx="382.50" cy="178.60" r="1.45" fill="#c8102e"/>
<line x1="376.98" y1="167.40" x2="385.42" y2="167.40" stroke="#2a2a2a" stroke-width="1.0"/>
<line x1="376.98" y1="208.90" x2="385.42" y2="208.90" stroke="#2a2a2a" stroke-width="1.0"/>
<line x1="356.00" y1="160.80" x2="379.50" y2="160.80" stroke="#555" stroke-width="1.3"/>
<circle cx="368.00" cy="157.40" r="0.9" fill="#222"/>
<text transform="translate(358.6,268.0) rotate(-45)" font-size="7.6" text-anchor="end" fill="#222" font-weight="normal" textLength="41" lengthAdjust="spacingAndGlyphs" stroke="#222" stroke-width="0.14">O<tspan font-size="4.8" dy="1.6">2</tspan><tspan dy="-1.6"> supplem.</tspan></text>
<text transform="translate(383.6,268.4) rotate(-45)" font-size="7.6" text-anchor="end" fill="#222" font-weight="normal" textLength="54" lengthAdjust="spacingAndGlyphs" stroke="#222" stroke-width="0.14">Mechanical vent.</text>
<line x1="356.30" y1="259.80" x2="356.30" y2="262.80" stroke="#222" stroke-width="1.0"/>
<line x1="381.30" y1="259.80" x2="381.30" y2="262.80" stroke="#222" stroke-width="1.0"/>
<line x1="450.00" y1="161.00" x2="450.00" y2="260.10" stroke="#222" stroke-width="1.25"/>
<line x1="449.40" y1="259.50" x2="513.00" y2="259.50" stroke="#222" stroke-width="1.25"/>
<line x1="446.80" y1="246.55" x2="450.00" y2="246.55" stroke="#222" stroke-width="1.0"/>
<text x="444.4" y="249.15" font-size="7.2" text-anchor="end" font-weight="normal" fill="#222" textLength="9.0" lengthAdjust="spacingAndGlyphs"  stroke="#222" stroke-width="0.14">40</text>
<line x1="446.80" y1="219.95" x2="450.00" y2="219.95" stroke="#222" stroke-width="1.0"/>
<text x="444.4" y="222.54999999999998" font-size="7.2" text-anchor="end" font-weight="normal" fill="#222" textLength="9.0" lengthAdjust="spacingAndGlyphs"  stroke="#222" stroke-width="0.14">60</text>
<line x1="446.80" y1="193.35" x2="450.00" y2="193.35" stroke="#222" stroke-width="1.0"/>
<text x="444.4" y="195.95" font-size="7.2" text-anchor="end" font-weight="normal" fill="#222" textLength="9.0" lengthAdjust="spacingAndGlyphs"  stroke="#222" stroke-width="0.14">80</text>
<line x1="446.80" y1="166.75" x2="450.00" y2="166.75" stroke="#222" stroke-width="1.0"/>
<text x="444.4" y="169.35" font-size="7.2" text-anchor="end" font-weight="normal" fill="#222" textLength="13.0" lengthAdjust="spacingAndGlyphs"  stroke="#222" stroke-width="0.14">100</text>
<text transform="translate(425.6,228.8) rotate(-90)" font-size="7.6" text-anchor="start" fill="#222" font-weight="normal" textLength="35.6" lengthAdjust="spacingAndGlyphs" stroke="#222" stroke-width="0.3">CD11b<tspan font-size="5.0" dy="-2.9">+</tspan><tspan dy="2.9"> <tspan font-size="8.8">(%)</tspan></tspan></text>
<line x1="469.00" y1="168.00" x2="469.00" y2="240.70" stroke="#3a3a3a" stroke-width="1.0"/>
<rect x="459.20" y="170.00" width="19.60" height="26.80" fill="#9fd9a3"/>
<line x1="459.20" y1="180.40" x2="478.80" y2="180.40" stroke="#222" stroke-width="1.1"/>
<circle cx="464.10" cy="168.60" r="1.45" fill="#2fb24a"/>
<circle cx="467.90" cy="168.00" r="1.45" fill="#2fb24a"/>
<circle cx="472.80" cy="168.80" r="1.45" fill="#2fb24a"/>
<circle cx="466.40" cy="172.30" r="1.45" fill="#2fb24a"/>
<circle cx="470.70" cy="172.30" r="1.45" fill="#2fb24a"/>
<circle cx="468.70" cy="177.50" r="1.45" fill="#2fb24a"/>
<circle cx="463.50" cy="183.80" r="1.45" fill="#2fb24a"/>
<circle cx="468.70" cy="183.80" r="1.45" fill="#2fb24a"/>
<circle cx="473.60" cy="183.80" r="1.45" fill="#2fb24a"/>
<circle cx="468.70" cy="192.50" r="1.45" fill="#2fb24a"/>
<circle cx="465.80" cy="208.90" r="1.45" fill="#2fb24a"/>
<circle cx="471.60" cy="209.80" r="1.45" fill="#2fb24a"/>
<circle cx="468.70" cy="240.70" r="1.45" fill="#2fb24a"/>
<line x1="464.88" y1="168.00" x2="473.12" y2="168.00" stroke="#2a2a2a" stroke-width="1.0"/>
<line x1="464.88" y1="240.70" x2="473.12" y2="240.70" stroke="#2a2a2a" stroke-width="1.0"/>
<line x1="493.80" y1="167.00" x2="493.80" y2="190.20" stroke="#3a3a3a" stroke-width="1.0"/>
<rect x="483.70" y="168.00" width="20.20" height="8.60" fill="#86a5c6"/>
<line x1="483.70" y1="170.00" x2="503.90" y2="170.00" stroke="#222" stroke-width="1.1"/>
<circle cx="486.00" cy="168.80" r="1.45" fill="#1a4f8b"/>
<circle cx="489.50" cy="168.00" r="1.45" fill="#1a4f8b"/>
<circle cx="493.80" cy="167.10" r="1.45" fill="#1a4f8b"/>
<circle cx="496.70" cy="168.00" r="1.45" fill="#1a4f8b"/>
<circle cx="499.60" cy="168.00" r="1.45" fill="#1a4f8b"/>
<circle cx="488.00" cy="172.30" r="1.45" fill="#1a4f8b"/>
<circle cx="492.40" cy="171.70" r="1.45" fill="#1a4f8b"/>
<circle cx="501.00" cy="171.70" r="1.45" fill="#1a4f8b"/>
<circle cx="491.00" cy="176.60" r="1.45" fill="#1a4f8b"/>
<circle cx="495.80" cy="176.60" r="1.45" fill="#1a4f8b"/>
<circle cx="500.50" cy="175.80" r="1.45" fill="#1a4f8b"/>
<circle cx="493.80" cy="190.20" r="1.45" fill="#1a4f8b"/>
<line x1="489.56" y1="167.00" x2="498.04" y2="167.00" stroke="#2a2a2a" stroke-width="1.0"/>
<line x1="489.56" y1="190.20" x2="498.04" y2="190.20" stroke="#2a2a2a" stroke-width="1.0"/>
<line x1="469.50" y1="160.80" x2="492.50" y2="160.80" stroke="#555" stroke-width="1.3"/>
<circle cx="480.80" cy="157.40" r="0.9" fill="#222"/>
<line x1="469.30" y1="259.50" x2="469.30" y2="262.50" stroke="#222" stroke-width="1.0"/>
<text transform="translate(471.7,268.0) rotate(-45)" font-size="7.6" text-anchor="end" fill="#222" font-weight="normal" textLength="25.8" lengthAdjust="spacingAndGlyphs" stroke="#222" stroke-width="0.14">Survivor</text>
<line x1="493.80" y1="259.50" x2="493.80" y2="262.50" stroke="#222" stroke-width="1.0"/>
<text transform="translate(496.2,268.0) rotate(-45)" font-size="7.6" text-anchor="end" fill="#222" font-weight="normal" textLength="38.2" lengthAdjust="spacingAndGlyphs" stroke="#222" stroke-width="0.14">Nonsurvivor</text>
</svg>
</body></html>
